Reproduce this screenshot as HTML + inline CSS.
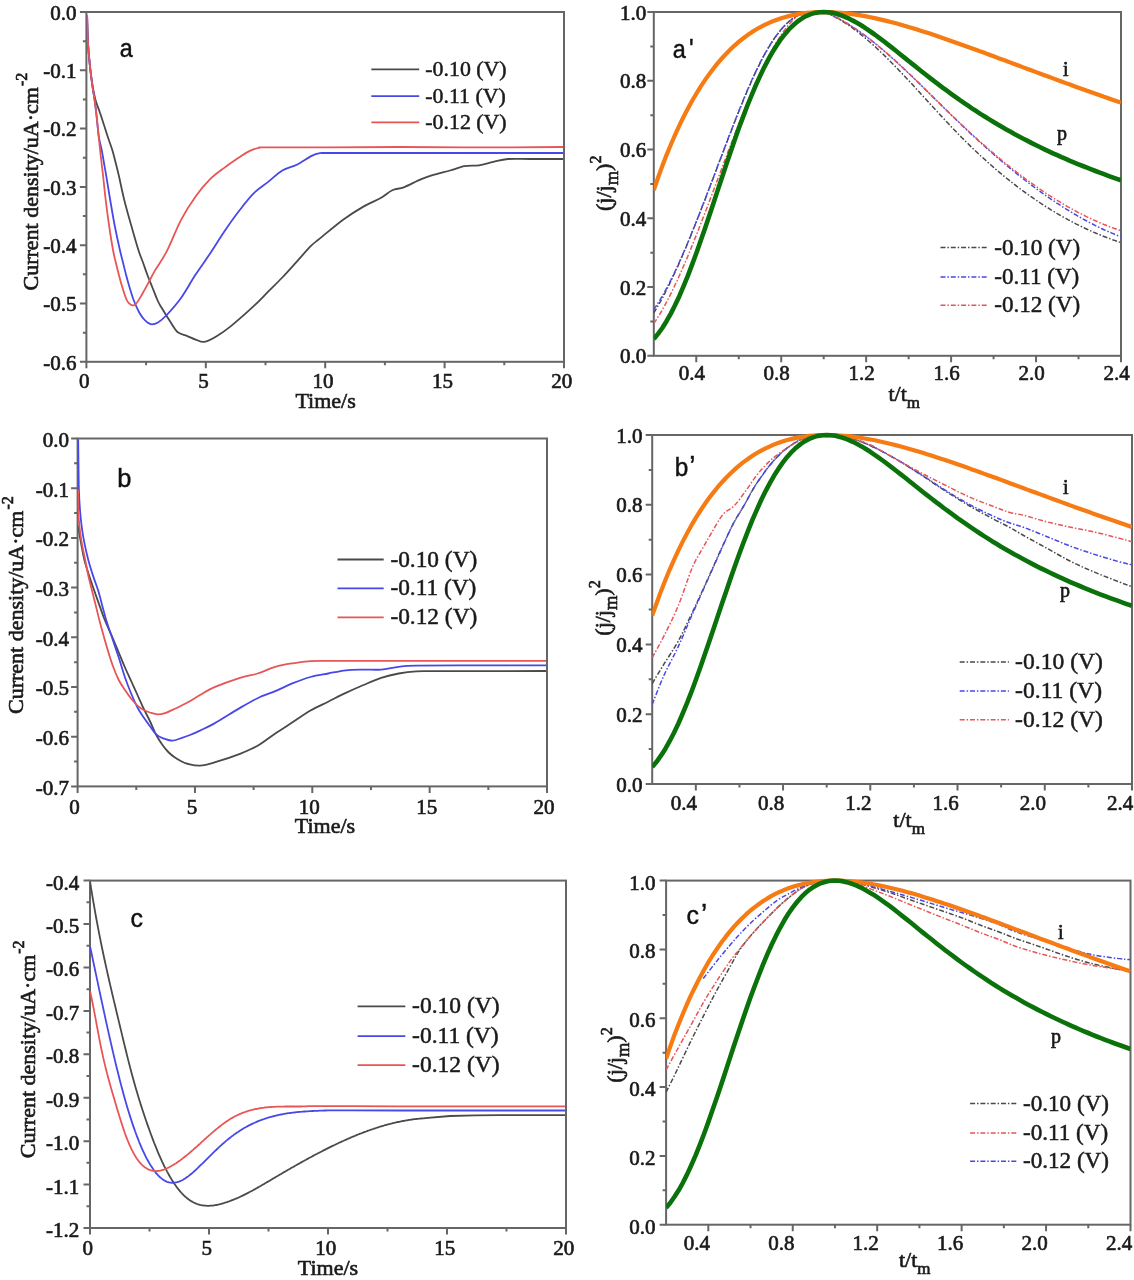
<!DOCTYPE html>
<html><head><meta charset="utf-8"><style>
html,body{margin:0;padding:0;background:#fff;}
body{width:1134px;height:1280px;overflow:hidden;}
svg{display:block;filter:blur(0.4px);}
.tk{font-family:"Liberation Serif", serif;font-size:21px;fill:#1a1a1a;stroke:#1a1a1a;stroke-width:0.65px;}
.lg{font-family:"Liberation Serif", serif;font-size:21.7px;fill:#1a1a1a;stroke:#1a1a1a;stroke-width:0.5px;}
.tt{font-family:"Liberation Serif", serif;font-size:22px;fill:#1a1a1a;stroke:#1a1a1a;stroke-width:0.65px;}
.pl{font-family:"Liberation Sans", sans-serif;font-size:24px;fill:#111;stroke:#111;stroke-width:0.45px;}
.ip{font-family:"Liberation Serif", serif;font-size:20px;fill:#1a1a1a;stroke:#1a1a1a;stroke-width:0.65px;}
</style></head><body>
<svg width="1134" height="1280" viewBox="0 0 1134 1280">
<rect width="1134" height="1280" fill="#fff"/>
<clipPath id="ca"><rect x="86.40" y="9.00" width="477.60" height="352.80"/></clipPath>
<rect x="86.40" y="12.00" width="477.60" height="349.80" fill="none" stroke="#666" stroke-width="2.0"/>
<text x="84.20" y="387.80" text-anchor="middle" class="tk">0</text>
<text x="203.60" y="387.80" text-anchor="middle" class="tk">5</text>
<text x="323.00" y="387.80" text-anchor="middle" class="tk">10</text>
<text x="442.40" y="387.80" text-anchor="middle" class="tk">15</text>
<text x="561.80" y="387.80" text-anchor="middle" class="tk">20</text>
<text x="76.40" y="19.73" text-anchor="end" class="tk">0.0</text>
<text x="76.40" y="78.03" text-anchor="end" class="tk">-0.1</text>
<text x="76.40" y="136.33" text-anchor="end" class="tk">-0.2</text>
<text x="76.40" y="194.63" text-anchor="end" class="tk">-0.3</text>
<text x="76.40" y="252.93" text-anchor="end" class="tk">-0.4</text>
<text x="76.40" y="311.23" text-anchor="end" class="tk">-0.5</text>
<text x="76.40" y="369.53" text-anchor="end" class="tk">-0.6</text>
<path d="M86.40,361.80 v6.5 M205.80,361.80 v6.5 M325.20,361.80 v6.5 M444.60,361.80 v6.5 M564.00,361.80 v6.5 M146.10,361.80 v3.5 M265.50,361.80 v3.5 M384.90,361.80 v3.5 M504.30,361.80 v3.5 M86.40,12.00 h-6.5 M86.40,70.30 h-6.5 M86.40,128.60 h-6.5 M86.40,186.90 h-6.5 M86.40,245.20 h-6.5 M86.40,303.50 h-6.5 M86.40,361.80 h-6.5 M86.40,41.15 h-3.5 M86.40,99.45 h-3.5 M86.40,157.75 h-3.5 M86.40,216.05 h-3.5 M86.40,274.35 h-3.5 M86.40,332.65 h-3.5" stroke="#666" stroke-width="2.0" fill="none"/>
<path d="M87.10,15.00 C87.23,19.38 87.45,32.97 87.90,41.25 C88.35,49.53 89.02,57.24 89.80,64.70 C90.58,72.16 91.65,80.12 92.60,86.00 C93.55,91.88 94.28,95.58 95.50,100.00 C96.72,104.42 98.48,108.33 99.90,112.50 C101.32,116.67 102.65,120.83 104.00,125.00 C105.35,129.17 106.62,133.33 108.00,137.50 C109.38,141.67 111.03,145.83 112.30,150.00 C113.57,154.17 114.53,158.33 115.60,162.50 C116.67,166.67 117.26,168.75 118.70,175.00 C120.14,181.25 122.18,191.67 124.25,200.00 C126.32,208.33 128.74,216.67 131.10,225.00 C133.46,233.33 136.42,243.75 138.40,250.00 C140.38,256.25 141.50,258.33 143.00,262.50 C144.50,266.67 145.83,270.83 147.40,275.00 C148.97,279.17 150.73,283.33 152.40,287.50 C154.07,291.67 155.97,296.78 157.40,300.00 C158.83,303.22 158.90,303.26 161.00,306.80 C163.10,310.34 167.25,317.05 170.00,321.25 C172.75,325.45 174.68,329.57 177.50,332.00 C180.32,334.43 183.88,334.53 186.90,335.80 C189.92,337.07 192.70,338.58 195.60,339.60 C198.50,340.62 200.93,342.38 204.30,341.90 C207.67,341.42 211.47,339.25 215.80,336.70 C220.13,334.15 224.03,331.65 230.30,326.60 C236.57,321.55 247.13,312.18 253.40,306.40 C259.67,300.62 263.08,296.72 267.90,291.90 C272.72,287.08 277.48,282.55 282.30,277.50 C287.12,272.45 291.98,266.90 296.80,261.60 C301.62,256.30 307.33,249.57 311.20,245.70 C315.07,241.83 314.68,242.73 320.00,238.40 C325.32,234.07 335.87,225.00 343.10,219.70 C350.33,214.40 357.13,210.22 363.40,206.60 C369.67,202.98 375.88,200.73 380.70,198.00 C385.52,195.27 388.45,191.98 392.30,190.20 C396.15,188.42 398.98,189.13 403.80,187.30 C408.62,185.47 415.90,181.37 421.20,179.20 C426.50,177.03 430.80,175.75 435.60,174.30 C440.40,172.85 445.18,171.85 450.00,170.50 C454.82,169.15 459.67,167.07 464.50,166.20 C469.33,165.33 474.18,166.03 479.00,165.30 C483.82,164.57 488.58,162.85 493.40,161.80 C498.22,160.75 501.80,159.47 507.90,159.00 C514.00,158.53 520.82,159.00 530.00,159.00 C539.18,159.00 557.50,159.00 563.00,159.00" stroke="#4a4a4a" stroke-width="1.80" fill="none" stroke-linejoin="round" stroke-linecap="butt" clip-path="url(#ca)"/>
<path d="M87.10,15.00 C87.23,19.38 87.45,32.97 87.90,41.25 C88.35,49.53 89.05,57.24 89.80,64.70 C90.55,72.16 91.60,80.12 92.40,86.00 C93.20,91.88 93.97,95.58 94.60,100.00 C95.23,104.42 95.72,108.33 96.20,112.50 C96.68,116.67 97.05,120.83 97.50,125.00 C97.95,129.17 98.20,133.33 98.90,137.50 C99.60,141.67 100.87,145.83 101.70,150.00 C102.53,154.17 103.17,158.33 103.90,162.50 C104.63,166.67 105.05,168.75 106.10,175.00 C107.15,181.25 108.78,191.67 110.20,200.00 C111.62,208.33 112.98,216.67 114.60,225.00 C116.22,233.33 118.50,243.75 119.90,250.00 C121.30,256.25 121.97,258.33 123.00,262.50 C124.03,266.67 125.00,270.83 126.10,275.00 C127.20,279.17 128.35,283.33 129.60,287.50 C130.85,291.67 131.99,295.83 133.60,300.00 C135.21,304.17 137.58,309.38 139.25,312.50 C140.92,315.62 142.22,317.08 143.60,318.75 C144.97,320.42 146.14,321.56 147.50,322.50 C148.86,323.44 150.00,324.40 151.75,324.40 C153.50,324.40 155.51,324.07 158.00,322.50 C160.49,320.93 162.83,319.13 166.70,315.00 C170.57,310.87 176.38,304.43 181.20,297.70 C186.02,290.97 190.78,281.97 195.60,274.60 C200.42,267.23 205.28,260.73 210.10,253.50 C214.92,246.27 219.68,238.28 224.50,231.20 C229.32,224.12 234.18,217.27 239.00,211.00 C243.82,204.73 248.58,198.42 253.40,193.60 C258.22,188.78 263.08,185.95 267.90,182.10 C272.72,178.25 277.48,173.40 282.30,170.50 C287.12,167.60 291.98,167.10 296.80,164.70 C301.62,162.30 307.35,158.02 311.20,156.10 C315.05,154.18 316.77,153.72 319.90,153.20 C323.03,152.68 316.65,153.03 330.00,153.00 C343.35,152.97 361.17,153.00 400.00,153.00 C438.83,153.00 535.83,153.00 563.00,153.00" stroke="#4848e8" stroke-width="1.80" fill="none" stroke-linejoin="round" stroke-linecap="butt" clip-path="url(#ca)"/>
<path d="M87.10,15.00 C87.23,19.38 87.45,32.97 87.90,41.25 C88.35,49.53 89.05,57.24 89.80,64.70 C90.55,72.16 91.60,80.12 92.40,86.00 C93.20,91.88 93.97,95.58 94.60,100.00 C95.23,104.42 95.72,108.33 96.20,112.50 C96.68,116.67 97.07,120.83 97.50,125.00 C97.93,129.17 98.37,133.33 98.80,137.50 C99.23,141.67 99.65,145.83 100.10,150.00 C100.55,154.17 101.02,158.33 101.50,162.50 C101.98,166.67 102.30,168.75 103.00,175.00 C103.70,181.25 104.70,191.67 105.70,200.00 C106.70,208.33 107.78,216.67 109.00,225.00 C110.22,233.33 111.87,243.75 113.00,250.00 C114.13,256.25 114.82,258.33 115.80,262.50 C116.78,266.67 117.80,270.83 118.90,275.00 C120.00,279.17 121.13,283.42 122.40,287.50 C123.67,291.58 125.32,296.80 126.50,299.50 C127.68,302.20 128.52,302.73 129.50,303.70 C130.48,304.67 131.30,305.29 132.40,305.30 C133.50,305.31 134.43,305.68 136.10,303.75 C137.77,301.82 140.32,297.29 142.40,293.75 C144.48,290.21 146.52,286.36 148.60,282.50 C150.68,278.64 151.88,275.78 154.90,270.60 C157.92,265.42 162.32,259.88 166.70,251.40 C171.08,242.92 176.38,228.85 181.20,219.70 C186.02,210.55 190.78,203.25 195.60,196.50 C200.42,189.75 205.28,184.02 210.10,179.20 C214.92,174.38 219.68,171.22 224.50,167.60 C229.32,163.98 235.33,160.00 239.00,157.50 C242.67,155.00 244.10,153.95 246.50,152.60 C248.90,151.25 251.32,150.18 253.40,149.40 C255.48,148.62 256.90,148.25 259.00,147.90 C261.10,147.55 254.17,147.38 266.00,147.30 C277.83,147.22 307.67,147.45 330.00,147.40 C352.33,147.35 375.00,147.00 400.00,147.00 C425.00,147.00 452.83,147.40 480.00,147.40 C507.17,147.40 549.17,147.07 563.00,147.00" stroke="#e85555" stroke-width="1.80" fill="none" stroke-linejoin="round" stroke-linecap="butt" clip-path="url(#ca)"/>
<path d="M371.30,69.30 H419.20" stroke="#4a4a4a" stroke-width="1.80"/>
<text x="425.30" y="76.30" class="lg" style="font-size:21.85px">-0.10 (V)</text>
<path d="M371.30,96.20 H419.20" stroke="#4848e8" stroke-width="1.80"/>
<text x="425.30" y="103.20" class="lg" style="font-size:21.85px">-0.11 (V)</text>
<path d="M371.30,122.30 H419.20" stroke="#e85555" stroke-width="1.80"/>
<text x="425.30" y="129.30" class="lg" style="font-size:21.85px">-0.12 (V)</text>
<g transform="translate(119.80,57.00) scale(0.880,1)"><text x="0" y="0" class="pl" style="font-size:26.5px">a</text></g>
<text transform="translate(37.90,290.50) rotate(-90)" class="tt">Current density/uA&#183;cm<tspan dx="1" dy="-10.5" font-size="16">-2</tspan></text>
<text x="325.60" y="408.30" text-anchor="middle" class="tt">Time/s</text>
<clipPath id="ca2"><rect x="653.80" y="9.00" width="467.20" height="346.80"/></clipPath>
<rect x="653.80" y="12.00" width="467.20" height="343.80" fill="none" stroke="#666" stroke-width="2.0"/>
<text x="691.77" y="379.50" text-anchor="middle" class="tk">0.4</text>
<text x="776.72" y="379.50" text-anchor="middle" class="tk">0.8</text>
<text x="861.66" y="379.50" text-anchor="middle" class="tk">1.2</text>
<text x="946.61" y="379.50" text-anchor="middle" class="tk">1.6</text>
<text x="1031.55" y="379.50" text-anchor="middle" class="tk">2.0</text>
<text x="1116.50" y="379.50" text-anchor="middle" class="tk">2.4</text>
<text x="646.30" y="363.43" text-anchor="end" class="tk">0.0</text>
<text x="646.30" y="294.67" text-anchor="end" class="tk">0.2</text>
<text x="646.30" y="225.91" text-anchor="end" class="tk">0.4</text>
<text x="646.30" y="157.15" text-anchor="end" class="tk">0.6</text>
<text x="646.30" y="88.39" text-anchor="end" class="tk">0.8</text>
<text x="646.30" y="19.63" text-anchor="end" class="tk">1.0</text>
<path d="M696.27,355.80 v6.5 M781.22,355.80 v6.5 M866.16,355.80 v6.5 M951.11,355.80 v6.5 M1036.05,355.80 v6.5 M1121.00,355.80 v6.5 M738.75,355.80 v3.5 M823.69,355.80 v3.5 M908.64,355.80 v3.5 M993.58,355.80 v3.5 M1078.53,355.80 v3.5 M653.80,355.80 h-6.5 M653.80,287.04 h-6.5 M653.80,218.28 h-6.5 M653.80,149.52 h-6.5 M653.80,80.76 h-6.5 M653.80,12.00 h-6.5 M653.80,321.42 h-3.5 M653.80,252.66 h-3.5 M653.80,183.90 h-3.5 M653.80,115.14 h-3.5 M653.80,46.38 h-3.5" stroke="#666" stroke-width="2.0" fill="none"/>
<path d="M653.8,312.8 L655.9,309.3 L658.0,305.7 L660.2,302.0 L662.3,298.1 L664.4,294.1 L666.5,289.9 L668.7,285.7 L670.8,281.3 L672.9,276.8 L675.0,272.2 L677.2,267.6 L679.3,262.8 L681.4,257.9 L683.5,253.0 L685.7,248.0 L687.8,242.9 L689.9,237.7 L692.0,232.5 L694.1,227.2 L696.3,221.9 L698.4,216.5 L700.5,211.1 L702.6,205.6 L704.8,200.1 L706.9,194.6 L709.0,189.0 L711.1,183.5 L713.3,177.9 L715.4,172.3 L717.5,166.7 L719.6,161.1 L721.8,155.5 L723.9,149.9 L726.0,144.4 L728.1,138.9 L730.3,133.4 L732.4,127.9 L734.5,122.4 L736.6,117.0 L738.7,111.7 L740.9,106.4 L743.0,101.2 L745.1,96.1 L747.2,91.0 L749.4,86.1 L751.5,81.3 L753.6,76.6 L755.7,72.0 L757.9,67.5 L760.0,63.2 L762.1,59.1 L764.2,55.1 L766.4,51.3 L768.5,47.7 L770.6,44.2 L772.7,40.9 L774.8,37.7 L777.0,34.8 L779.1,32.0 L781.2,29.4 L783.3,27.0 L785.5,24.8 L787.6,22.8 L789.7,20.9 L791.8,19.2 L794.0,17.7 L796.1,16.4 L798.2,15.2 L800.3,14.1 L802.5,13.3 L804.6,12.5 L806.7,12.0 L808.8,12.0 L810.9,12.0 L813.1,12.0 L815.2,12.0 L817.3,12.0 L819.4,12.0 L821.6,12.0 L823.7,12.1 L825.8,12.6 L827.9,13.5 L830.1,14.5 L832.2,15.5 L834.3,16.6 L836.4,17.8 L838.6,18.9 L840.7,20.2 L842.8,21.5 L844.9,22.8 L847.1,24.2 L849.2,25.7 L851.3,27.2 L853.4,28.7 L855.5,30.3 L857.7,31.9 L859.8,33.6 L861.9,35.3 L864.0,37.1 L866.2,38.8 L868.3,40.7 L870.4,42.5 L872.5,44.4 L874.7,46.3 L876.8,48.3 L878.9,50.3 L881.0,52.3 L883.2,54.3 L885.3,56.4 L887.4,58.5 L889.5,60.6 L891.6,62.8 L893.8,64.9 L895.9,67.1 L898.0,69.3 L900.1,71.5 L902.3,73.8 L904.4,76.0 L906.5,78.3 L908.6,80.5 L910.8,82.8 L912.9,85.1 L915.0,87.4 L917.1,89.7 L919.3,92.1 L921.4,94.4 L923.5,96.7 L925.6,99.0 L927.7,101.3 L929.9,103.7 L932.0,106.0 L934.1,108.3 L936.2,110.6 L938.4,112.9 L940.5,115.2 L942.6,117.5 L944.7,119.8 L946.9,122.1 L949.0,124.3 L951.1,126.6 L953.2,128.8 L955.4,131.0 L957.5,133.2 L959.6,135.4 L961.7,137.5 L963.9,139.6 L966.0,141.8 L968.1,143.8 L970.2,145.9 L972.3,148.0 L974.5,150.0 L976.6,152.0 L978.7,154.0 L980.8,156.0 L983.0,157.9 L985.1,159.8 L987.2,161.8 L989.3,163.6 L991.5,165.5 L993.6,167.4 L995.7,169.2 L997.8,171.0 L1000.0,172.8 L1002.1,174.6 L1004.2,176.3 L1006.3,178.0 L1008.4,179.7 L1010.6,181.4 L1012.7,183.1 L1014.8,184.7 L1016.9,186.4 L1019.1,188.0 L1021.2,189.6 L1023.3,191.1 L1025.4,192.7 L1027.6,194.2 L1029.7,195.7 L1031.8,197.2 L1033.9,198.7 L1036.1,200.1 L1038.2,201.6 L1040.3,203.0 L1042.4,204.4 L1044.5,205.8 L1046.7,207.1 L1048.8,208.4 L1050.9,209.8 L1053.0,211.1 L1055.2,212.3 L1057.3,213.6 L1059.4,214.8 L1061.5,216.1 L1063.7,217.3 L1065.8,218.4 L1067.9,219.6 L1070.0,220.7 L1072.2,221.9 L1074.3,223.0 L1076.4,224.1 L1078.5,225.1 L1080.7,226.2 L1082.8,227.2 L1084.9,228.2 L1087.0,229.2 L1089.1,230.2 L1091.3,231.1 L1093.4,232.1 L1095.5,233.0 L1097.6,233.9 L1099.8,234.8 L1101.9,235.7 L1104.0,236.5 L1106.1,237.3 L1108.3,238.1 L1110.4,238.9 L1112.5,239.7 L1114.6,240.4 L1116.8,241.2 L1118.9,241.9 L1121.0,242.6" stroke="#4a4a4a" stroke-width="1.50" fill="none" stroke-linejoin="round" stroke-linecap="butt" stroke-dasharray="5,1.9,1.5,1.9" clip-path="url(#ca2)"/>
<path d="M653.8,309.4 L655.9,306.3 L658.0,303.0 L660.2,299.6 L662.3,296.0 L664.4,292.3 L666.5,288.4 L668.7,284.3 L670.8,280.2 L672.9,275.9 L675.0,271.5 L677.2,266.9 L679.3,262.3 L681.4,257.5 L683.5,252.7 L685.7,247.7 L687.8,242.7 L689.9,237.6 L692.0,232.4 L694.1,227.2 L696.3,221.8 L698.4,216.5 L700.5,211.0 L702.6,205.6 L704.8,200.1 L706.9,194.5 L709.0,188.9 L711.1,183.3 L713.3,177.7 L715.4,172.1 L717.5,166.5 L719.6,160.8 L721.8,155.2 L723.9,149.6 L726.0,144.0 L728.1,138.4 L730.3,132.9 L732.4,127.4 L734.5,121.9 L736.6,116.5 L738.7,111.2 L740.9,105.9 L743.0,100.7 L745.1,95.6 L747.2,90.6 L749.4,85.7 L751.5,80.8 L753.6,76.2 L755.7,71.6 L757.9,67.2 L760.0,62.9 L762.1,58.8 L764.2,54.9 L766.4,51.1 L768.5,47.5 L770.6,44.0 L772.7,40.8 L774.8,37.7 L777.0,34.7 L779.1,32.0 L781.2,29.4 L783.3,27.0 L785.5,24.8 L787.6,22.8 L789.7,21.0 L791.8,19.3 L794.0,17.8 L796.1,16.4 L798.2,15.2 L800.3,14.2 L802.5,13.3 L804.6,12.6 L806.7,12.0 L808.8,12.0 L810.9,12.0 L813.1,12.0 L815.2,12.0 L817.3,12.0 L819.4,12.0 L821.6,12.0 L823.7,12.1 L825.8,12.6 L827.9,13.5 L830.1,14.4 L832.2,15.4 L834.3,16.4 L836.4,17.5 L838.6,18.6 L840.7,19.7 L842.8,20.9 L844.9,22.1 L847.1,23.4 L849.2,24.7 L851.3,26.0 L853.4,27.4 L855.5,28.8 L857.7,30.3 L859.8,31.7 L861.9,33.3 L864.0,34.8 L866.2,36.4 L868.3,38.0 L870.4,39.6 L872.5,41.3 L874.7,43.0 L876.8,44.7 L878.9,46.5 L881.0,48.3 L883.2,50.1 L885.3,51.9 L887.4,53.7 L889.5,55.6 L891.6,57.5 L893.8,59.4 L895.9,61.3 L898.0,63.3 L900.1,65.2 L902.3,67.2 L904.4,69.2 L906.5,71.2 L908.6,73.2 L910.8,75.2 L912.9,77.3 L915.0,79.3 L917.1,81.4 L919.3,83.4 L921.4,85.5 L923.5,87.6 L925.6,89.7 L927.7,91.8 L929.9,93.9 L932.0,96.0 L934.1,98.1 L936.2,100.2 L938.4,102.3 L940.5,104.4 L942.6,106.5 L944.7,108.6 L946.9,110.6 L949.0,112.7 L951.1,114.8 L953.2,116.9 L955.4,118.9 L957.5,121.0 L959.6,123.0 L961.7,125.1 L963.9,127.1 L966.0,129.1 L968.1,131.1 L970.2,133.1 L972.3,135.1 L974.5,137.1 L976.6,139.0 L978.7,141.0 L980.8,142.9 L983.0,144.8 L985.1,146.7 L987.2,148.6 L989.3,150.5 L991.5,152.4 L993.6,154.2 L995.7,156.1 L997.8,157.9 L1000.0,159.7 L1002.1,161.6 L1004.2,163.3 L1006.3,165.1 L1008.4,166.9 L1010.6,168.6 L1012.7,170.4 L1014.8,172.1 L1016.9,173.8 L1019.1,175.5 L1021.2,177.2 L1023.3,178.9 L1025.4,180.5 L1027.6,182.1 L1029.7,183.8 L1031.8,185.4 L1033.9,187.0 L1036.1,188.5 L1038.2,190.1 L1040.3,191.6 L1042.4,193.2 L1044.5,194.7 L1046.7,196.2 L1048.8,197.6 L1050.9,199.1 L1053.0,200.5 L1055.2,202.0 L1057.3,203.4 L1059.4,204.7 L1061.5,206.1 L1063.7,207.5 L1065.8,208.8 L1067.9,210.1 L1070.0,211.4 L1072.2,212.7 L1074.3,214.0 L1076.4,215.2 L1078.5,216.5 L1080.7,217.7 L1082.8,218.9 L1084.9,220.0 L1087.0,221.2 L1089.1,222.3 L1091.3,223.4 L1093.4,224.5 L1095.5,225.6 L1097.6,226.6 L1099.8,227.7 L1101.9,228.7 L1104.0,229.7 L1106.1,230.6 L1108.3,231.6 L1110.4,232.5 L1112.5,233.4 L1114.6,234.3 L1116.8,235.2 L1118.9,236.0 L1121.0,236.8" stroke="#4848e8" stroke-width="1.50" fill="none" stroke-linejoin="round" stroke-linecap="butt" stroke-dasharray="5,1.9,1.5,1.9" clip-path="url(#ca2)"/>
<path d="M653.8,323.5 L655.9,320.4 L658.0,317.0 L660.2,313.5 L662.3,309.9 L664.4,306.1 L666.5,302.1 L668.7,298.0 L670.8,293.8 L672.9,289.5 L675.0,285.0 L677.2,280.5 L679.3,275.8 L681.4,271.0 L683.5,266.2 L685.7,261.2 L687.8,256.2 L689.9,251.1 L692.0,245.9 L694.1,240.6 L696.3,235.3 L698.4,229.9 L700.5,224.4 L702.6,219.0 L704.8,213.4 L706.9,207.9 L709.0,202.3 L711.1,196.7 L713.3,191.1 L715.4,185.4 L717.5,179.8 L719.6,174.1 L721.8,168.5 L723.9,162.8 L726.0,157.2 L728.1,151.6 L730.3,146.1 L732.4,140.5 L734.5,135.0 L736.6,129.6 L738.7,124.2 L740.9,118.8 L743.0,113.5 L745.1,108.3 L747.2,103.1 L749.4,98.0 L751.5,93.0 L753.6,88.1 L755.7,83.3 L757.9,78.6 L760.0,74.0 L762.1,69.5 L764.2,65.1 L766.4,60.8 L768.5,56.7 L770.6,52.7 L772.7,48.8 L774.8,45.1 L777.0,41.5 L779.1,38.1 L781.2,34.9 L783.3,31.8 L785.5,28.9 L787.6,26.1 L789.7,23.6 L791.8,21.2 L794.0,19.0 L796.1,17.0 L798.2,15.3 L800.3,13.7 L802.5,12.4 L804.6,12.0 L806.7,12.0 L808.8,12.0 L810.9,12.0 L813.1,12.0 L815.2,12.0 L817.3,12.0 L819.4,12.0 L821.6,12.0 L823.7,12.1 L825.8,12.6 L827.9,13.5 L830.1,14.4 L832.2,15.4 L834.3,16.4 L836.4,17.4 L838.6,18.5 L840.7,19.7 L842.8,20.9 L844.9,22.1 L847.1,23.4 L849.2,24.7 L851.3,26.0 L853.4,27.4 L855.5,28.8 L857.7,30.2 L859.8,31.7 L861.9,33.3 L864.0,34.8 L866.2,36.4 L868.3,38.0 L870.4,39.7 L872.5,41.3 L874.7,43.0 L876.8,44.8 L878.9,46.5 L881.0,48.3 L883.2,50.1 L885.3,51.9 L887.4,53.8 L889.5,55.6 L891.6,57.5 L893.8,59.4 L895.9,61.4 L898.0,63.3 L900.1,65.3 L902.3,67.3 L904.4,69.2 L906.5,71.2 L908.6,73.3 L910.8,75.3 L912.9,77.3 L915.0,79.4 L917.1,81.4 L919.3,83.5 L921.4,85.6 L923.5,87.6 L925.6,89.7 L927.7,91.8 L929.9,93.9 L932.0,96.0 L934.1,98.1 L936.2,100.2 L938.4,102.2 L940.5,104.3 L942.6,106.4 L944.7,108.5 L946.9,110.6 L949.0,112.6 L951.1,114.7 L953.2,116.7 L955.4,118.8 L957.5,120.8 L959.6,122.8 L961.7,124.8 L963.9,126.8 L966.0,128.8 L968.1,130.8 L970.2,132.7 L972.3,134.7 L974.5,136.6 L976.6,138.5 L978.7,140.5 L980.8,142.3 L983.0,144.2 L985.1,146.1 L987.2,148.0 L989.3,149.8 L991.5,151.6 L993.6,153.4 L995.7,155.2 L997.8,157.0 L1000.0,158.8 L1002.1,160.5 L1004.2,162.3 L1006.3,164.0 L1008.4,165.7 L1010.6,167.4 L1012.7,169.1 L1014.8,170.7 L1016.9,172.4 L1019.1,174.0 L1021.2,175.6 L1023.3,177.2 L1025.4,178.8 L1027.6,180.4 L1029.7,181.9 L1031.8,183.4 L1033.9,184.9 L1036.1,186.4 L1038.2,187.9 L1040.3,189.4 L1042.4,190.8 L1044.5,192.3 L1046.7,193.7 L1048.8,195.1 L1050.9,196.4 L1053.0,197.8 L1055.2,199.1 L1057.3,200.4 L1059.4,201.7 L1061.5,203.0 L1063.7,204.3 L1065.8,205.5 L1067.9,206.8 L1070.0,208.0 L1072.2,209.1 L1074.3,210.3 L1076.4,211.5 L1078.5,212.6 L1080.7,213.7 L1082.8,214.8 L1084.9,215.8 L1087.0,216.9 L1089.1,217.9 L1091.3,218.9 L1093.4,219.9 L1095.5,220.8 L1097.6,221.8 L1099.8,222.7 L1101.9,223.6 L1104.0,224.5 L1106.1,225.3 L1108.3,226.2 L1110.4,227.0 L1112.5,227.8 L1114.6,228.5 L1116.8,229.3 L1118.9,230.0 L1121.0,230.7" stroke="#e85555" stroke-width="1.50" fill="none" stroke-linejoin="round" stroke-linecap="butt" stroke-dasharray="5,1.9,1.5,1.9" clip-path="url(#ca2)"/>
<path d="M653.8,190.0 L658.0,177.7 L662.3,166.1 L666.5,155.1 L670.8,144.8 L675.0,135.0 L679.3,125.7 L683.5,117.0 L687.8,108.7 L692.0,101.0 L696.3,93.7 L700.5,86.9 L704.8,80.4 L709.0,74.4 L713.3,68.7 L717.5,63.4 L721.8,58.5 L726.0,53.9 L730.3,49.6 L734.5,45.6 L738.7,41.9 L743.0,38.5 L747.2,35.3 L751.5,32.4 L755.7,29.8 L760.0,27.3 L764.2,25.1 L768.5,23.1 L772.7,21.3 L777.0,19.7 L781.2,18.2 L785.5,17.0 L789.7,15.9 L794.0,14.9 L798.2,14.1 L802.5,13.4 L806.7,12.9 L810.9,12.5 L815.2,12.2 L819.4,12.1 L823.7,12.0 L827.9,12.1 L832.2,12.2 L836.4,12.5 L840.7,12.8 L844.9,13.2 L849.2,13.7 L853.4,14.3 L857.7,14.9 L861.9,15.6 L866.2,16.4 L870.4,17.2 L874.7,18.1 L878.9,19.1 L883.2,20.1 L887.4,21.1 L891.6,22.2 L895.9,23.3 L900.1,24.5 L904.4,25.7 L908.6,27.0 L912.9,28.2 L917.1,29.5 L921.4,30.9 L925.6,32.2 L929.9,33.6 L934.1,35.0 L938.4,36.5 L942.6,37.9 L946.9,39.4 L951.1,40.9 L955.4,42.4 L959.6,43.9 L963.9,45.4 L968.1,46.9 L972.3,48.5 L976.6,50.0 L980.8,51.6 L985.1,53.1 L989.3,54.7 L993.6,56.3 L997.8,57.9 L1002.1,59.4 L1006.3,61.0 L1010.6,62.6 L1014.8,64.2 L1019.1,65.8 L1023.3,67.4 L1027.6,69.0 L1031.8,70.5 L1036.1,72.1 L1040.3,73.7 L1044.5,75.3 L1048.8,76.8 L1053.0,78.4 L1057.3,80.0 L1061.5,81.5 L1065.8,83.1 L1070.0,84.6 L1074.3,86.2 L1078.5,87.7 L1082.8,89.2 L1087.0,90.7 L1091.3,92.3 L1095.5,93.8 L1099.8,95.3 L1104.0,96.8 L1108.3,98.2 L1112.5,99.7 L1116.8,101.2 L1121.0,102.6" stroke="#f57b12" stroke-width="4.20" fill="none" stroke-linejoin="round" stroke-linecap="butt" clip-path="url(#ca2)"/>
<path d="M653.8,339.0 L658.0,333.9 L662.3,328.0 L666.5,321.2 L670.8,313.6 L675.0,305.3 L679.3,296.2 L683.5,286.4 L687.8,275.9 L692.0,264.9 L696.3,253.3 L700.5,241.3 L704.8,229.0 L709.0,216.4 L713.3,203.7 L717.5,190.9 L721.8,178.1 L726.0,165.3 L730.3,152.8 L734.5,140.6 L738.7,128.6 L743.0,117.1 L747.2,106.0 L751.5,95.5 L755.7,85.5 L760.0,76.1 L764.2,67.3 L768.5,59.2 L772.7,51.7 L777.0,44.9 L781.2,38.8 L785.5,33.4 L789.7,28.6 L794.0,24.5 L798.2,21.0 L802.5,18.1 L806.7,15.8 L810.9,14.1 L815.2,12.9 L819.4,12.2 L823.7,12.0 L827.9,12.2 L832.2,12.8 L836.4,13.8 L840.7,15.2 L844.9,16.8 L849.2,18.7 L853.4,20.9 L857.7,23.2 L861.9,25.8 L866.2,28.6 L870.4,31.5 L874.7,34.5 L878.9,37.6 L883.2,40.8 L887.4,44.1 L891.6,47.4 L895.9,50.8 L900.1,54.2 L904.4,57.6 L908.6,61.0 L912.9,64.4 L917.1,67.8 L921.4,71.2 L925.6,74.5 L929.9,77.9 L934.1,81.1 L938.4,84.4 L942.6,87.6 L946.9,90.7 L951.1,93.8 L955.4,96.9 L959.6,99.9 L963.9,102.8 L968.1,105.7 L972.3,108.6 L976.6,111.3 L980.8,114.1 L985.1,116.8 L989.3,119.4 L993.6,122.0 L997.8,124.5 L1002.1,127.0 L1006.3,129.4 L1010.6,131.8 L1014.8,134.2 L1019.1,136.5 L1023.3,138.7 L1027.6,140.9 L1031.8,143.1 L1036.1,145.2 L1040.3,147.3 L1044.5,149.3 L1048.8,151.3 L1053.0,153.3 L1057.3,155.2 L1061.5,157.1 L1065.8,158.9 L1070.0,160.8 L1074.3,162.6 L1078.5,164.3 L1082.8,166.0 L1087.0,167.7 L1091.3,169.4 L1095.5,171.0 L1099.8,172.6 L1104.0,174.2 L1108.3,175.8 L1112.5,177.3 L1116.8,178.8 L1121.0,180.3" stroke="#0b720b" stroke-width="4.60" fill="none" stroke-linejoin="round" stroke-linecap="butt" clip-path="url(#ca2)"/>
<path d="M940.50,247.50 H988.30" stroke="#4a4a4a" stroke-width="1.50" stroke-dasharray="5,1.9,1.5,1.9"/>
<text x="994.20" y="254.50" class="lg" style="font-size:23.10px">-0.10 (V)</text>
<path d="M940.50,277.00 H988.30" stroke="#4848e8" stroke-width="1.50" stroke-dasharray="5,1.9,1.5,1.9"/>
<text x="994.20" y="284.00" class="lg" style="font-size:23.10px">-0.11 (V)</text>
<path d="M940.50,305.20 H988.30" stroke="#e85555" stroke-width="1.50" stroke-dasharray="5,1.9,1.5,1.9"/>
<text x="994.20" y="312.20" class="lg" style="font-size:23.10px">-0.12 (V)</text>
<g transform="translate(672.80,58.00) scale(0.900,1)"><text x="0" y="0" class="pl" style="font-size:26.0px">a<tspan dx="3.50" dy="0.00" style="font-size:27.0px">'</tspan></text></g>
<text x="1063" y="75.5" class="ip">i</text>
<text x="1057" y="139.5" class="ip">p</text>
<text transform="translate(610.80,211.00) rotate(-90)" class="tt">(j/j<tspan dy="7" font-size="18.5">m</tspan><tspan dy="-7">)</tspan><tspan dy="-9.5" font-size="16">2</tspan></text>
<text x="888.50" y="401.30" class="tt">t/t<tspan dy="7" style="font-size:17px">m</tspan></text>
<clipPath id="cb"><rect x="77.60" y="435.50" width="469.40" height="350.90"/></clipPath>
<rect x="77.60" y="438.50" width="469.40" height="347.90" fill="none" stroke="#666" stroke-width="2.0"/>
<text x="74.60" y="813.50" text-anchor="middle" class="tk">0</text>
<text x="191.95" y="813.50" text-anchor="middle" class="tk">5</text>
<text x="309.30" y="813.50" text-anchor="middle" class="tk">10</text>
<text x="426.65" y="813.50" text-anchor="middle" class="tk">15</text>
<text x="544.00" y="813.50" text-anchor="middle" class="tk">20</text>
<text x="68.90" y="446.93" text-anchor="end" class="tk">0.0</text>
<text x="68.90" y="496.63" text-anchor="end" class="tk">-0.1</text>
<text x="68.90" y="546.33" text-anchor="end" class="tk">-0.2</text>
<text x="68.90" y="596.03" text-anchor="end" class="tk">-0.3</text>
<text x="68.90" y="645.73" text-anchor="end" class="tk">-0.4</text>
<text x="68.90" y="695.43" text-anchor="end" class="tk">-0.5</text>
<text x="68.90" y="745.13" text-anchor="end" class="tk">-0.6</text>
<text x="68.90" y="794.83" text-anchor="end" class="tk">-0.7</text>
<path d="M77.60,786.40 v6.5 M194.95,786.40 v6.5 M312.30,786.40 v6.5 M429.65,786.40 v6.5 M547.00,786.40 v6.5 M136.27,786.40 v3.5 M253.62,786.40 v3.5 M370.98,786.40 v3.5 M488.32,786.40 v3.5 M77.60,438.50 h-6.5 M77.60,488.20 h-6.5 M77.60,537.90 h-6.5 M77.60,587.60 h-6.5 M77.60,637.30 h-6.5 M77.60,687.00 h-6.5 M77.60,736.70 h-6.5 M77.60,786.40 h-6.5 M77.60,463.35 h-3.5 M77.60,513.05 h-3.5 M77.60,562.75 h-3.5 M77.60,612.45 h-3.5 M77.60,662.15 h-3.5 M77.60,711.85 h-3.5 M77.60,761.55 h-3.5" stroke="#666" stroke-width="2.0" fill="none"/>
<path d="M78.10,525.60 C78.62,528.73 80.20,538.67 81.25,544.40 C82.30,550.13 83.09,554.80 84.40,560.00 C85.71,565.20 87.42,570.38 89.10,575.60 C90.78,580.82 92.68,586.08 94.50,591.30 C96.32,596.52 98.25,602.03 100.00,606.90 C101.75,611.77 102.92,615.40 105.00,620.50 C107.08,625.60 110.21,632.17 112.50,637.50 C114.79,642.83 116.67,647.50 118.75,652.50 C120.83,657.50 122.92,662.71 125.00,667.50 C127.08,672.29 129.17,676.67 131.25,681.25 C133.33,685.83 135.42,690.42 137.50,695.00 C139.58,699.58 141.67,704.38 143.75,708.75 C145.83,713.12 147.92,716.88 150.00,721.25 C152.08,725.62 154.17,731.04 156.25,735.00 C158.33,738.96 160.42,742.08 162.50,745.00 C164.58,747.92 166.67,750.42 168.75,752.50 C170.83,754.58 172.92,756.04 175.00,757.50 C177.08,758.96 179.17,760.21 181.25,761.25 C183.33,762.29 184.38,763.02 187.50,763.75 C190.62,764.48 195.50,765.83 200.00,765.60 C204.50,765.38 207.83,764.37 214.50,762.40 C221.17,760.43 232.82,756.57 240.00,753.80 C247.18,751.03 251.72,749.18 257.60,745.80 C263.48,742.42 269.42,737.47 275.30,733.50 C281.18,729.53 287.03,725.83 292.90,722.00 C298.77,718.17 304.62,713.88 310.50,710.50 C316.38,707.12 322.32,704.63 328.20,701.70 C334.08,698.77 339.92,695.68 345.80,692.90 C351.68,690.12 357.62,687.50 363.50,685.00 C369.38,682.50 375.23,679.82 381.10,677.90 C386.97,675.98 392.82,674.58 398.70,673.50 C404.58,672.42 409.52,671.78 416.40,671.40 C423.28,671.02 418.40,671.27 440.00,671.20 C461.60,671.13 528.33,671.03 546.00,671.00" stroke="#4a4a4a" stroke-width="1.80" fill="none" stroke-linejoin="round" stroke-linecap="butt" clip-path="url(#cb)"/>
<path d="M78.20,439.50 C78.25,443.75 78.38,456.63 78.50,465.00 C78.62,473.37 78.65,482.20 78.90,489.70 C79.15,497.20 79.48,503.48 80.00,510.00 C80.52,516.52 81.22,523.07 82.00,528.80 C82.78,534.53 83.65,539.20 84.70,544.40 C85.75,549.60 86.92,554.80 88.30,560.00 C89.68,565.20 91.32,570.38 93.00,575.60 C94.68,580.82 96.80,586.08 98.40,591.30 C100.00,596.52 101.25,601.95 102.60,606.90 C103.95,611.85 104.93,615.90 106.50,621.00 C108.07,626.10 109.96,631.42 112.00,637.50 C114.04,643.58 116.58,650.83 118.75,657.50 C120.92,664.17 122.92,671.46 125.00,677.50 C127.08,683.54 129.17,688.75 131.25,693.75 C133.33,698.75 135.42,703.54 137.50,707.50 C139.58,711.46 141.67,714.38 143.75,717.50 C145.83,720.62 147.92,723.43 150.00,726.25 C152.08,729.07 154.17,732.42 156.25,734.40 C158.33,736.38 159.79,737.07 162.50,738.10 C165.21,739.13 169.38,740.60 172.50,740.60 C175.62,740.60 178.33,739.03 181.25,738.10 C184.17,737.17 186.88,736.25 190.00,735.00 C193.12,733.75 195.92,732.53 200.00,730.60 C204.08,728.67 207.83,727.18 214.50,723.40 C221.17,719.62 232.82,712.10 240.00,707.90 C247.18,703.70 251.72,701.00 257.60,698.20 C263.48,695.40 269.42,693.60 275.30,691.10 C281.18,688.60 287.03,685.55 292.90,683.20 C298.77,680.85 304.62,678.62 310.50,677.00 C316.38,675.38 322.32,674.62 328.20,673.50 C334.08,672.38 339.92,670.95 345.80,670.30 C351.68,669.65 357.62,669.72 363.50,669.60 C369.38,669.48 375.23,670.07 381.10,669.60 C386.97,669.13 392.82,667.47 398.70,666.80 C404.58,666.13 402.85,665.83 416.40,665.60 C429.95,665.37 458.40,665.43 480.00,665.40 C501.60,665.37 535.00,665.40 546.00,665.40" stroke="#4848e8" stroke-width="1.80" fill="none" stroke-linejoin="round" stroke-linecap="butt" clip-path="url(#cb)"/>
<path d="M78.10,489.70 C78.15,493.58 78.13,506.48 78.40,513.00 C78.67,519.52 79.10,523.57 79.70,528.80 C80.30,534.03 81.08,539.20 82.00,544.40 C82.92,549.60 84.15,554.80 85.20,560.00 C86.25,565.20 87.13,570.38 88.30,575.60 C89.47,580.82 90.90,586.08 92.20,591.30 C93.50,596.52 94.80,601.70 96.10,606.90 C97.40,612.10 98.31,616.15 100.00,622.50 C101.69,628.85 104.17,637.92 106.25,645.00 C108.33,652.08 110.42,659.17 112.50,665.00 C114.58,670.83 116.67,675.83 118.75,680.00 C120.83,684.17 122.92,686.88 125.00,690.00 C127.08,693.12 129.17,696.15 131.25,698.75 C133.33,701.35 135.42,703.73 137.50,705.60 C139.58,707.48 141.67,708.85 143.75,710.00 C145.83,711.15 147.71,711.77 150.00,712.50 C152.29,713.23 155.00,714.30 157.50,714.40 C160.00,714.50 162.08,714.04 165.00,713.10 C167.92,712.16 171.25,710.52 175.00,708.75 C178.75,706.98 183.33,704.79 187.50,702.50 C191.67,700.21 195.50,697.55 200.00,695.00 C204.50,692.45 207.83,690.05 214.50,687.20 C221.17,684.35 232.82,680.18 240.00,677.90 C247.18,675.62 251.72,675.35 257.60,673.50 C263.48,671.65 269.42,668.50 275.30,666.80 C281.18,665.10 287.03,664.23 292.90,663.30 C298.77,662.37 304.32,661.60 310.50,661.20 C316.68,660.80 315.08,660.95 330.00,660.90 C344.92,660.85 364.00,660.90 400.00,660.90 C436.00,660.90 521.67,660.90 546.00,660.90" stroke="#e85555" stroke-width="1.80" fill="none" stroke-linejoin="round" stroke-linecap="butt" clip-path="url(#cb)"/>
<path d="M337.50,559.50 H383.70" stroke="#4a4a4a" stroke-width="1.80"/>
<text x="390.40" y="566.50" class="lg" style="font-size:23.35px">-0.10 (V)</text>
<path d="M337.50,588.40 H383.70" stroke="#4848e8" stroke-width="1.80"/>
<text x="390.40" y="595.40" class="lg" style="font-size:23.35px">-0.11 (V)</text>
<path d="M337.50,617.30 H383.70" stroke="#e85555" stroke-width="1.80"/>
<text x="390.40" y="624.30" class="lg" style="font-size:23.35px">-0.12 (V)</text>
<g transform="translate(117.30,486.60) scale(0.960,1)"><text x="0" y="0" class="pl" style="font-size:26.5px">b</text></g>
<text transform="translate(23.40,714.00) rotate(-90)" class="tt">Current density/uA&#183;cm<tspan dx="1" dy="-10.5" font-size="16">-2</tspan></text>
<text x="325.00" y="832.90" text-anchor="middle" class="tt">Time/s</text>
<clipPath id="cb2"><rect x="652.20" y="432.00" width="479.80" height="352.00"/></clipPath>
<rect x="652.20" y="435.00" width="479.80" height="349.00" fill="none" stroke="#666" stroke-width="2.0"/>
<text x="683.82" y="809.70" text-anchor="middle" class="tk">0.4</text>
<text x="771.05" y="809.70" text-anchor="middle" class="tk">0.8</text>
<text x="858.29" y="809.70" text-anchor="middle" class="tk">1.2</text>
<text x="945.53" y="809.70" text-anchor="middle" class="tk">1.6</text>
<text x="1032.76" y="809.70" text-anchor="middle" class="tk">2.0</text>
<text x="1120.00" y="809.70" text-anchor="middle" class="tk">2.4</text>
<text x="642.40" y="791.53" text-anchor="end" class="tk">0.0</text>
<text x="642.40" y="721.73" text-anchor="end" class="tk">0.2</text>
<text x="642.40" y="651.93" text-anchor="end" class="tk">0.4</text>
<text x="642.40" y="582.13" text-anchor="end" class="tk">0.6</text>
<text x="642.40" y="512.33" text-anchor="end" class="tk">0.8</text>
<text x="642.40" y="442.53" text-anchor="end" class="tk">1.0</text>
<path d="M695.82,784.00 v6.5 M783.05,784.00 v6.5 M870.29,784.00 v6.5 M957.53,784.00 v6.5 M1044.76,784.00 v6.5 M1132.00,784.00 v6.5 M739.44,784.00 v3.5 M826.67,784.00 v3.5 M913.91,784.00 v3.5 M1001.15,784.00 v3.5 M1088.38,784.00 v3.5 M652.20,784.00 h-6.5 M652.20,714.20 h-6.5 M652.20,644.40 h-6.5 M652.20,574.60 h-6.5 M652.20,504.80 h-6.5 M652.20,435.00 h-6.5 M652.20,749.10 h-3.5 M652.20,679.30 h-3.5 M652.20,609.50 h-3.5 M652.20,539.70 h-3.5 M652.20,469.90 h-3.5" stroke="#666" stroke-width="2.0" fill="none"/>
<path d="M652.20,683.49 C654.18,680.23 659.76,670.98 664.09,663.94 C668.41,656.91 673.48,649.75 678.15,641.26 C682.82,632.77 687.42,622.82 692.11,612.99 C696.80,603.16 701.52,592.75 706.29,582.28 C711.05,571.81 716.94,558.40 720.68,550.17 C724.42,541.94 726.46,537.66 728.75,532.89 C731.04,528.12 732.53,525.01 734.42,521.55 C736.31,518.09 738.16,515.39 740.09,512.13 C742.02,508.87 744.05,505.44 745.98,502.01 C747.91,498.58 749.76,494.80 751.65,491.54 C753.54,488.28 755.43,485.31 757.32,482.46 C759.21,479.61 761.06,477.11 762.99,474.44 C764.92,471.76 766.01,469.84 768.88,466.41 C771.75,462.98 776.40,457.45 780.22,453.85 C784.04,450.24 787.96,447.33 791.78,444.77 C795.59,442.21 799.12,440.00 803.12,438.49 C807.12,436.98 811.84,436.28 815.77,435.70 C819.69,435.12 821.22,434.65 826.67,435.00 C832.13,435.35 841.25,436.05 848.48,437.79 C855.72,439.54 862.37,442.04 870.07,445.47 C877.78,448.90 886.50,453.67 894.72,458.38 C902.93,463.09 911.15,468.45 919.36,473.74 C927.58,479.03 935.75,484.85 944.01,490.14 C952.26,495.44 960.62,500.67 968.87,505.50 C977.12,510.33 986.68,515.44 993.51,519.11 C1000.35,522.77 1004.85,524.75 1009.87,527.49 C1014.89,530.22 1017.39,532.02 1023.61,535.51 C1029.82,539.00 1039.28,544.09 1047.16,548.42 C1055.05,552.76 1063.05,557.56 1070.93,561.51 C1078.82,565.47 1086.60,568.81 1094.49,572.16 C1102.38,575.50 1112.01,579.14 1118.26,581.58 C1124.51,584.02 1129.71,585.94 1132.00,586.82" stroke="#4a4a4a" stroke-width="1.50" fill="none" stroke-linejoin="round" stroke-linecap="butt" stroke-dasharray="5,1.9,1.5,1.9" clip-path="url(#cb2)"/>
<path d="M652.20,704.43 C654.18,699.54 659.76,684.71 664.09,675.11 C668.41,665.51 673.48,656.91 678.15,646.84 C682.82,636.78 687.42,625.38 692.11,614.74 C696.80,604.09 701.52,593.62 706.29,582.98 C711.05,572.33 716.94,559.21 720.68,550.87 C724.42,542.52 726.46,537.78 728.75,532.89 C731.04,528.01 732.53,525.01 734.42,521.55 C736.31,518.09 738.16,515.39 740.09,512.13 C742.02,508.87 744.05,505.44 745.98,502.01 C747.91,498.58 749.76,494.80 751.65,491.54 C753.54,488.28 755.43,485.31 757.32,482.46 C759.21,479.61 761.06,477.11 762.99,474.44 C764.92,471.76 766.01,469.84 768.88,466.41 C771.75,462.98 776.40,457.45 780.22,453.85 C784.04,450.24 787.96,447.33 791.78,444.77 C795.59,442.21 799.12,440.00 803.12,438.49 C807.12,436.98 811.84,436.28 815.77,435.70 C819.69,435.12 821.22,434.65 826.67,435.00 C832.13,435.35 841.25,436.05 848.48,437.79 C855.72,439.54 862.37,442.04 870.07,445.47 C877.78,448.90 886.50,453.73 894.72,458.38 C902.93,463.04 911.15,468.21 919.36,473.39 C927.58,478.57 935.75,484.33 944.01,489.44 C952.26,494.56 960.62,499.62 968.87,504.10 C977.12,508.58 986.68,513.18 993.51,516.32 C1000.35,519.46 1004.85,521.12 1009.87,522.95 C1014.89,524.78 1017.39,525.02 1023.61,527.31 C1029.82,529.60 1039.28,533.53 1047.16,536.70 C1055.05,539.87 1063.05,543.39 1070.93,546.33 C1078.82,549.27 1086.60,551.83 1094.49,554.36 C1102.38,556.89 1112.01,559.77 1118.26,561.51 C1124.51,563.26 1129.71,564.28 1132.00,564.83" stroke="#4848e8" stroke-width="1.50" fill="none" stroke-linejoin="round" stroke-linecap="butt" stroke-dasharray="5,1.9,1.5,1.9" clip-path="url(#cb2)"/>
<path d="M652.20,657.66 C654.18,654.00 659.76,644.28 664.09,635.67 C668.41,627.07 673.48,617.29 678.15,606.01 C682.82,594.73 688.08,577.51 692.11,567.97 C696.15,558.43 699.13,554.62 702.36,548.77 C705.60,542.93 708.10,538.59 711.52,532.89 C714.94,527.19 719.04,519.14 722.86,514.57 C726.68,510.01 730.57,509.51 734.42,505.50 C738.27,501.48 742.16,495.67 745.98,490.49 C749.80,485.31 753.50,479.21 757.32,474.44 C761.14,469.67 765.06,465.51 768.88,461.87 C772.70,458.23 776.40,455.38 780.22,452.59 C784.04,449.80 787.96,447.41 791.78,445.12 C795.59,442.83 799.12,440.41 803.12,438.84 C807.12,437.27 811.84,436.34 815.77,435.70 C819.69,435.06 821.22,434.65 826.67,435.00 C832.13,435.35 841.25,436.16 848.48,437.79 C855.72,439.42 862.37,441.34 870.07,444.77 C877.78,448.20 886.50,453.85 894.72,458.38 C902.93,462.92 911.15,467.63 919.36,471.99 C927.58,476.36 935.75,480.43 944.01,484.56 C952.26,488.69 960.62,493.11 968.87,496.77 C977.12,500.44 986.68,503.93 993.51,506.54 C1000.35,509.16 1004.85,511.02 1009.87,512.48 C1014.89,513.93 1017.39,513.70 1023.61,515.27 C1029.82,516.84 1039.28,519.89 1047.16,521.90 C1055.05,523.91 1063.05,525.62 1070.93,527.31 C1078.82,529.00 1086.60,530.25 1094.49,532.02 C1102.38,533.80 1112.01,536.33 1118.26,537.96 C1124.51,539.58 1129.71,541.15 1132.00,541.79" stroke="#e85555" stroke-width="1.50" fill="none" stroke-linejoin="round" stroke-linecap="butt" stroke-dasharray="5,1.9,1.5,1.9" clip-path="url(#cb2)"/>
<path d="M652.2,615.6 L656.6,603.2 L660.9,591.4 L665.3,580.3 L669.6,569.8 L674.0,559.8 L678.4,550.4 L682.7,541.6 L687.1,533.2 L691.5,525.3 L695.8,517.9 L700.2,511.0 L704.5,504.5 L708.9,498.3 L713.3,492.6 L717.6,487.2 L722.0,482.2 L726.4,477.5 L730.7,473.2 L735.1,469.1 L739.4,465.4 L743.8,461.9 L748.2,458.7 L752.5,455.7 L756.9,453.0 L761.2,450.6 L765.6,448.3 L770.0,446.3 L774.3,444.4 L778.7,442.8 L783.1,441.3 L787.4,440.0 L791.8,438.9 L796.1,437.9 L800.5,437.1 L804.9,436.5 L809.2,435.9 L813.6,435.5 L817.9,435.2 L822.3,435.1 L826.7,435.0 L831.0,435.1 L835.4,435.2 L839.8,435.5 L844.1,435.8 L848.5,436.2 L852.8,436.7 L857.2,437.3 L861.6,438.0 L865.9,438.7 L870.3,439.5 L874.7,440.3 L879.0,441.2 L883.4,442.2 L887.7,443.2 L892.1,444.3 L896.5,445.4 L900.8,446.5 L905.2,447.7 L909.5,448.9 L913.9,450.2 L918.3,451.5 L922.6,452.8 L927.0,454.2 L931.4,455.5 L935.7,457.0 L940.1,458.4 L944.4,459.8 L948.8,461.3 L953.2,462.8 L957.5,464.3 L961.9,465.8 L966.3,467.3 L970.6,468.9 L975.0,470.4 L979.3,472.0 L983.7,473.6 L988.1,475.2 L992.4,476.8 L996.8,478.3 L1001.1,479.9 L1005.5,481.5 L1009.9,483.2 L1014.2,484.8 L1018.6,486.4 L1023.0,488.0 L1027.3,489.6 L1031.7,491.2 L1036.0,492.8 L1040.4,494.4 L1044.8,496.0 L1049.1,497.6 L1053.5,499.2 L1057.8,500.8 L1062.2,502.4 L1066.6,504.0 L1070.9,505.6 L1075.3,507.2 L1079.7,508.7 L1084.0,510.3 L1088.4,511.8 L1092.7,513.4 L1097.1,514.9 L1101.5,516.5 L1105.8,518.0 L1110.2,519.5 L1114.6,521.0 L1118.9,522.5 L1123.3,524.0 L1127.6,525.5 L1132.0,527.0" stroke="#f57b12" stroke-width="4.20" fill="none" stroke-linejoin="round" stroke-linecap="butt" clip-path="url(#cb2)"/>
<path d="M652.2,767.0 L656.6,761.8 L660.9,755.7 L665.3,748.9 L669.6,741.2 L674.0,732.7 L678.4,723.5 L682.7,713.5 L687.1,702.9 L691.5,691.7 L695.8,680.0 L700.2,667.8 L704.5,655.3 L708.9,642.5 L713.3,629.6 L717.6,616.6 L722.0,603.6 L726.4,590.7 L730.7,577.9 L735.1,565.5 L739.4,553.4 L743.8,541.7 L748.2,530.4 L752.5,519.7 L756.9,509.6 L761.2,500.0 L765.6,491.1 L770.0,482.9 L774.3,475.3 L778.7,468.4 L783.1,462.2 L787.4,456.7 L791.8,451.8 L796.1,447.7 L800.5,444.1 L804.9,441.2 L809.2,438.9 L813.6,437.1 L817.9,435.9 L822.3,435.2 L826.7,435.0 L831.0,435.2 L835.4,435.8 L839.8,436.9 L844.1,438.2 L848.5,439.9 L852.8,441.8 L857.2,444.0 L861.6,446.4 L865.9,449.0 L870.3,451.8 L874.7,454.8 L879.0,457.8 L883.4,461.0 L887.7,464.3 L892.1,467.6 L896.5,471.0 L900.8,474.4 L905.2,477.8 L909.5,481.3 L913.9,484.8 L918.3,488.2 L922.6,491.7 L927.0,495.1 L931.4,498.5 L935.7,501.9 L940.1,505.2 L944.4,508.5 L948.8,511.7 L953.2,514.9 L957.5,518.1 L961.9,521.2 L966.3,524.2 L970.6,527.2 L975.0,530.1 L979.3,533.0 L983.7,535.9 L988.1,538.6 L992.4,541.4 L996.8,544.0 L1001.1,546.7 L1005.5,549.2 L1009.9,551.7 L1014.2,554.2 L1018.6,556.6 L1023.0,559.0 L1027.3,561.3 L1031.7,563.6 L1036.0,565.9 L1040.4,568.1 L1044.8,570.2 L1049.1,572.3 L1053.5,574.4 L1057.8,576.4 L1062.2,578.4 L1066.6,580.4 L1070.9,582.3 L1075.3,584.2 L1079.7,586.0 L1084.0,587.8 L1088.4,589.6 L1092.7,591.4 L1097.1,593.1 L1101.5,594.8 L1105.8,596.4 L1110.2,598.1 L1114.6,599.7 L1118.9,601.2 L1123.3,602.8 L1127.6,604.3 L1132.0,605.8" stroke="#0b720b" stroke-width="4.60" fill="none" stroke-linejoin="round" stroke-linecap="butt" clip-path="url(#cb2)"/>
<path d="M959.70,662.00 H1008.90" stroke="#4a4a4a" stroke-width="1.50" stroke-dasharray="5,1.9,1.5,1.9"/>
<text x="1015.10" y="669.00" class="lg" style="font-size:23.60px">-0.10 (V)</text>
<path d="M959.70,690.90 H1008.90" stroke="#4848e8" stroke-width="1.50" stroke-dasharray="5,1.9,1.5,1.9"/>
<text x="1015.10" y="697.90" class="lg" style="font-size:23.60px">-0.11 (V)</text>
<path d="M959.70,719.80 H1008.90" stroke="#e85555" stroke-width="1.50" stroke-dasharray="5,1.9,1.5,1.9"/>
<text x="1015.10" y="726.80" class="lg" style="font-size:23.60px">-0.12 (V)</text>
<g transform="translate(674.80,476.40) scale(0.920,1)"><text x="0" y="0" class="pl" style="font-size:26.5px">b<tspan dx="1.00" dy="0.00" style="font-size:30.0px">&#8217;</tspan></text></g>
<text x="1063" y="494" class="ip">i</text>
<text x="1060" y="597" class="ip">p</text>
<text transform="translate(609.70,635.70) rotate(-90)" class="tt">(j/j<tspan dy="7" font-size="18.5">m</tspan><tspan dy="-7">)</tspan><tspan dy="-9.5" font-size="16">2</tspan></text>
<text x="893.30" y="827.00" class="tt">t/t<tspan dy="7" style="font-size:17px">m</tspan></text>
<clipPath id="cc"><rect x="90.00" y="877.60" width="476.00" height="350.40"/></clipPath>
<rect x="90.00" y="880.60" width="476.00" height="347.40" fill="none" stroke="#666" stroke-width="2.0"/>
<text x="87.80" y="1254.60" text-anchor="middle" class="tk">0</text>
<text x="206.80" y="1254.60" text-anchor="middle" class="tk">5</text>
<text x="325.80" y="1254.60" text-anchor="middle" class="tk">10</text>
<text x="444.80" y="1254.60" text-anchor="middle" class="tk">15</text>
<text x="563.80" y="1254.60" text-anchor="middle" class="tk">20</text>
<text x="79.20" y="889.53" text-anchor="end" class="tk">-0.4</text>
<text x="79.20" y="932.95" text-anchor="end" class="tk">-0.5</text>
<text x="79.20" y="976.38" text-anchor="end" class="tk">-0.6</text>
<text x="79.20" y="1019.80" text-anchor="end" class="tk">-0.7</text>
<text x="79.20" y="1063.23" text-anchor="end" class="tk">-0.8</text>
<text x="79.20" y="1106.65" text-anchor="end" class="tk">-0.9</text>
<text x="79.20" y="1150.08" text-anchor="end" class="tk">-1.0</text>
<text x="79.20" y="1193.51" text-anchor="end" class="tk">-1.1</text>
<text x="79.20" y="1236.93" text-anchor="end" class="tk">-1.2</text>
<path d="M90.00,1228.00 v6.5 M209.00,1228.00 v6.5 M328.00,1228.00 v6.5 M447.00,1228.00 v6.5 M566.00,1228.00 v6.5 M149.50,1228.00 v3.5 M268.50,1228.00 v3.5 M387.50,1228.00 v3.5 M506.50,1228.00 v3.5 M90.00,880.60 h-6.5 M90.00,924.02 h-6.5 M90.00,967.45 h-6.5 M90.00,1010.88 h-6.5 M90.00,1054.30 h-6.5 M90.00,1097.72 h-6.5 M90.00,1141.15 h-6.5 M90.00,1184.58 h-6.5 M90.00,1228.00 h-6.5 M90.00,902.31 h-3.5 M90.00,945.74 h-3.5 M90.00,989.16 h-3.5 M90.00,1032.59 h-3.5 M90.00,1076.01 h-3.5 M90.00,1119.44 h-3.5 M90.00,1162.86 h-3.5 M90.00,1206.29 h-3.5" stroke="#666" stroke-width="2.0" fill="none"/>
<path d="M90.1,882.0 L91.1,888.3 L92.1,894.4 L93.1,900.4 L94.1,906.2 L95.1,911.9 L96.1,917.5 L97.1,922.9 L98.1,928.2 L99.1,933.3 L100.1,938.4 L101.1,943.4 L102.1,948.2 L103.1,953.0 L104.1,957.7 L105.1,962.3 L106.1,966.9 L107.1,971.4 L108.1,975.8 L109.1,980.2 L110.1,984.6 L111.1,988.9 L112.1,993.2 L113.1,997.4 L114.1,1001.6 L115.1,1005.8 L116.1,1010.0 L117.1,1014.2 L118.1,1018.4 L119.1,1022.6 L120.1,1026.8 L121.1,1030.9 L122.1,1035.1 L123.1,1039.3 L124.1,1043.4 L125.1,1047.5 L126.1,1051.5 L127.1,1055.6 L128.1,1059.6 L129.1,1063.5 L130.1,1067.4 L131.1,1071.2 L132.1,1074.9 L133.1,1078.6 L134.1,1082.2 L135.1,1085.8 L136.1,1089.2 L137.1,1092.6 L138.1,1096.0 L139.1,1099.2 L140.1,1102.5 L141.1,1105.6 L142.1,1108.7 L143.1,1111.8 L144.1,1114.8 L145.1,1117.7 L146.1,1120.7 L147.1,1123.6 L148.1,1126.4 L149.1,1129.2 L150.1,1132.0 L151.1,1134.7 L152.1,1137.4 L153.1,1140.1 L154.1,1142.7 L155.1,1145.2 L156.1,1147.7 L157.1,1150.2 L158.1,1152.6 L159.1,1154.9 L160.1,1157.2 L161.1,1159.4 L162.1,1161.6 L163.1,1163.7 L164.1,1165.8 L165.1,1167.8 L166.1,1169.7 L167.1,1171.6 L168.1,1173.4 L169.1,1175.2 L170.1,1177.0 L171.1,1178.6 L172.1,1180.3 L173.1,1181.8 L174.1,1183.4 L175.1,1184.8 L176.1,1186.2 L177.1,1187.6 L178.1,1188.9 L179.1,1190.1 L180.1,1191.3 L181.1,1192.5 L182.1,1193.6 L183.1,1194.6 L184.1,1195.6 L185.1,1196.5 L186.1,1197.4 L187.1,1198.2 L188.1,1199.0 L189.1,1199.7 L190.1,1200.4 L191.1,1201.1 L192.1,1201.6 L193.1,1202.2 L194.1,1202.7 L195.1,1203.2 L196.1,1203.6 L197.1,1204.0 L198.1,1204.3 L199.1,1204.6 L200.1,1204.9 L201.1,1205.1 L202.1,1205.3 L203.1,1205.4 L204.1,1205.6 L205.1,1205.7 L206.1,1205.7 L207.1,1205.8 L208.1,1205.8 L209.1,1205.8 L210.1,1205.7 L211.1,1205.7 L212.1,1205.6 L213.1,1205.5 L214.1,1205.3 L215.1,1205.2 L216.1,1205.0 L217.1,1204.8 L218.1,1204.6 L219.1,1204.4 L220.1,1204.1 L221.1,1203.9 L222.1,1203.6 L223.1,1203.3 L224.1,1203.0 L225.1,1202.7 L226.1,1202.4 L227.1,1202.1 L228.1,1201.7 L229.1,1201.4 L230.1,1201.0 L231.1,1200.6 L232.1,1200.2 L233.1,1199.8 L234.1,1199.4 L235.1,1199.0 L236.1,1198.6 L237.1,1198.2 L238.1,1197.7 L239.1,1197.3 L240.1,1196.8 L241.1,1196.3 L242.1,1195.9 L243.1,1195.4 L244.1,1194.9 L245.1,1194.4 L246.1,1193.9 L247.1,1193.4 L248.1,1192.9 L249.1,1192.3 L250.1,1191.8 L251.1,1191.3 L252.1,1190.7 L253.1,1190.2 L254.1,1189.6 L255.1,1189.1 L256.1,1188.5 L257.1,1187.9 L258.1,1187.4 L259.1,1186.8 L260.1,1186.2 L261.1,1185.7 L262.1,1185.1 L263.1,1184.5 L264.1,1183.9 L265.1,1183.3 L266.1,1182.7 L267.1,1182.1 L268.1,1181.6 L269.1,1181.0 L270.1,1180.4 L271.1,1179.8 L272.1,1179.2 L273.1,1178.6 L274.1,1178.0 L275.1,1177.4 L276.1,1176.8 L277.1,1176.2 L278.1,1175.7 L279.1,1175.1 L280.1,1174.5 L281.1,1173.9 L282.1,1173.3 L283.1,1172.7 L284.1,1172.1 L285.1,1171.6 L286.1,1171.0 L287.1,1170.4 L288.1,1169.8 L289.1,1169.3 L290.1,1168.7 L291.1,1168.1 L292.1,1167.5 L293.1,1167.0 L294.1,1166.4 L295.1,1165.8 L296.1,1165.3 L297.1,1164.7 L298.1,1164.1 L299.1,1163.6 L300.1,1163.0 L301.1,1162.4 L302.1,1161.9 L303.1,1161.3 L304.1,1160.8 L305.1,1160.2 L306.1,1159.7 L307.1,1159.1 L308.1,1158.6 L309.1,1158.0 L310.1,1157.5 L311.1,1157.0 L312.1,1156.4 L313.1,1155.9 L314.1,1155.3 L315.1,1154.8 L316.1,1154.3 L317.1,1153.8 L318.1,1153.2 L319.1,1152.7 L320.1,1152.2 L321.1,1151.7 L322.1,1151.2 L323.1,1150.6 L324.1,1150.1 L325.1,1149.6 L326.1,1149.1 L327.1,1148.6 L328.1,1148.1 L329.1,1147.6 L330.1,1147.1 L331.1,1146.6 L332.1,1146.1 L333.1,1145.7 L334.1,1145.2 L335.1,1144.7 L336.1,1144.2 L337.1,1143.7 L338.1,1143.3 L339.1,1142.8 L340.1,1142.3 L341.1,1141.9 L342.1,1141.4 L343.1,1141.0 L344.1,1140.5 L345.1,1140.1 L346.1,1139.6 L347.1,1139.2 L348.1,1138.7 L349.1,1138.3 L350.1,1137.9 L351.1,1137.4 L352.1,1137.0 L353.1,1136.6 L354.1,1136.2 L355.1,1135.8 L356.1,1135.3 L357.1,1134.9 L358.1,1134.5 L359.1,1134.1 L360.1,1133.7 L361.1,1133.4 L362.1,1133.0 L363.1,1132.6 L364.1,1132.2 L365.1,1131.8 L366.1,1131.5 L367.1,1131.1 L368.1,1130.7 L369.1,1130.4 L370.1,1130.0 L371.1,1129.7 L372.1,1129.3 L373.1,1129.0 L374.1,1128.6 L375.1,1128.3 L376.1,1128.0 L377.1,1127.7 L378.1,1127.3 L379.1,1127.0 L380.1,1126.7 L381.1,1126.4 L382.1,1126.1 L383.1,1125.8 L384.1,1125.5 L385.1,1125.2 L386.1,1125.0 L387.1,1124.7 L388.1,1124.4 L389.1,1124.1 L390.1,1123.9 L391.1,1123.6 L392.1,1123.4 L393.1,1123.1 L394.1,1122.9 L395.1,1122.7 L396.1,1122.4 L397.1,1122.2 L398.1,1122.0 L399.1,1121.8 L400.1,1121.6 L401.1,1121.4 L402.1,1121.2 L403.1,1121.0 L404.1,1120.8 L405.1,1120.6 L406.1,1120.4 L407.1,1120.3 L408.1,1120.1 L409.1,1119.9 L410.1,1119.8 L411.1,1119.6 L412.1,1119.5 L413.1,1119.4 L414.1,1119.2 L415.1,1119.1 L416.1,1119.0 L417.1,1118.9 L418.1,1118.8 L419.1,1118.7 L420.1,1118.6 L421.1,1118.5 L422.1,1118.4 L423.1,1118.3 L424.1,1118.3 L425.0,1118.2 L450.0,1116.0 L475.0,1115.3 L500.0,1115.1 L565.0,1115.1" stroke="#4a4a4a" stroke-width="1.80" fill="none" stroke-linejoin="round" stroke-linecap="butt" clip-path="url(#cc)"/>
<path d="M90.1,946.6 L91.1,951.3 L92.1,956.0 L93.1,960.7 L94.1,965.5 L95.1,970.2 L96.1,974.9 L97.1,979.6 L98.1,984.4 L99.1,989.1 L100.1,993.8 L101.1,998.5 L102.1,1003.1 L103.1,1007.8 L104.1,1012.4 L105.1,1017.0 L106.1,1021.6 L107.1,1026.1 L108.1,1030.6 L109.1,1035.1 L110.1,1039.5 L111.1,1043.9 L112.1,1048.3 L113.1,1052.6 L114.1,1056.8 L115.1,1061.1 L116.1,1065.2 L117.1,1069.3 L118.1,1073.3 L119.1,1077.3 L120.1,1081.2 L121.1,1085.1 L122.1,1088.8 L123.1,1092.6 L124.1,1096.2 L125.1,1099.8 L126.1,1103.2 L127.1,1106.7 L128.1,1110.0 L129.1,1113.3 L130.1,1116.4 L131.1,1119.6 L132.1,1122.6 L133.1,1125.6 L134.1,1128.4 L135.1,1131.3 L136.1,1134.0 L137.1,1136.7 L138.1,1139.2 L139.1,1141.8 L140.1,1144.2 L141.1,1146.6 L142.1,1148.9 L143.1,1151.1 L144.1,1153.2 L145.1,1155.3 L146.1,1157.3 L147.1,1159.2 L148.1,1161.0 L149.1,1162.8 L150.1,1164.5 L151.1,1166.1 L152.1,1167.6 L153.1,1169.1 L154.1,1170.5 L155.1,1171.8 L156.1,1173.1 L157.1,1174.2 L158.1,1175.3 L159.1,1176.3 L160.1,1177.3 L161.1,1178.1 L162.1,1178.9 L163.1,1179.7 L164.1,1180.3 L165.1,1180.9 L166.1,1181.4 L167.1,1181.8 L168.1,1182.1 L169.1,1182.4 L170.1,1182.6 L171.1,1182.7 L172.1,1182.8 L173.1,1182.8 L174.1,1182.7 L175.1,1182.6 L176.1,1182.4 L177.1,1182.2 L178.1,1181.9 L179.1,1181.6 L180.1,1181.2 L181.1,1180.7 L182.1,1180.2 L183.1,1179.7 L184.1,1179.1 L185.1,1178.5 L186.1,1177.8 L187.1,1177.1 L188.1,1176.4 L189.1,1175.6 L190.1,1174.8 L191.1,1174.0 L192.1,1173.2 L193.1,1172.3 L194.1,1171.4 L195.1,1170.5 L196.1,1169.6 L197.1,1168.6 L198.1,1167.7 L199.1,1166.7 L200.1,1165.7 L201.1,1164.7 L202.1,1163.8 L203.1,1162.8 L204.1,1161.8 L205.1,1160.8 L206.1,1159.8 L207.1,1158.8 L208.1,1157.8 L209.1,1156.8 L210.1,1155.8 L211.1,1154.8 L212.1,1153.9 L213.1,1152.9 L214.1,1151.9 L215.1,1150.9 L216.1,1150.0 L217.1,1149.0 L218.1,1148.1 L219.1,1147.2 L220.1,1146.2 L221.1,1145.3 L222.1,1144.4 L223.1,1143.5 L224.1,1142.7 L225.1,1141.8 L226.1,1140.9 L227.1,1140.1 L228.1,1139.3 L229.1,1138.5 L230.1,1137.7 L231.1,1136.9 L232.1,1136.1 L233.1,1135.4 L234.1,1134.6 L235.1,1133.9 L236.1,1133.2 L237.1,1132.5 L238.1,1131.9 L239.1,1131.2 L240.1,1130.6 L241.1,1129.9 L242.1,1129.3 L243.1,1128.7 L244.1,1128.1 L245.1,1127.5 L246.1,1127.0 L247.1,1126.4 L248.1,1125.9 L249.1,1125.4 L250.1,1124.9 L251.1,1124.4 L252.1,1123.9 L253.1,1123.4 L254.1,1123.0 L255.1,1122.5 L256.1,1122.1 L257.1,1121.6 L258.1,1121.2 L259.1,1120.8 L260.1,1120.4 L261.1,1120.1 L262.1,1119.7 L263.1,1119.3 L264.1,1119.0 L265.1,1118.6 L266.1,1118.3 L267.1,1118.0 L268.1,1117.7 L269.1,1117.4 L270.1,1117.1 L271.1,1116.8 L272.1,1116.5 L273.1,1116.3 L274.1,1116.0 L275.1,1115.8 L276.1,1115.5 L277.1,1115.3 L278.1,1115.1 L279.1,1114.9 L280.1,1114.7 L281.1,1114.5 L282.1,1114.3 L283.1,1114.1 L284.1,1113.9 L285.1,1113.7 L286.1,1113.6 L287.1,1113.4 L288.1,1113.2 L289.1,1113.1 L290.1,1113.0 L291.1,1112.8 L292.1,1112.7 L293.1,1112.6 L294.1,1112.5 L295.1,1112.3 L296.1,1112.2 L297.1,1112.1 L298.1,1112.0 L299.1,1111.9 L300.1,1111.8 L301.1,1111.8 L302.1,1111.7 L303.1,1111.6 L304.1,1111.5 L305.1,1111.5 L306.1,1111.4 L307.1,1111.3 L308.1,1111.3 L309.1,1111.2 L310.1,1111.1 L311.1,1111.1 L312.1,1111.0 L313.1,1111.0 L314.1,1110.9 L315.1,1110.9 L316.1,1110.9 L317.1,1110.8 L318.1,1110.8 L319.1,1110.7 L320.1,1110.7 L321.1,1110.6 L322.1,1110.6 L323.1,1110.6 L324.1,1110.5 L325.1,1110.5 L326.1,1110.5 L327.1,1110.4 L328.1,1110.4 L329.1,1110.3 L330.0,1110.3 L350.0,1110.3 L400.0,1110.5 L565.0,1110.5" stroke="#4848e8" stroke-width="1.80" fill="none" stroke-linejoin="round" stroke-linecap="butt" clip-path="url(#cc)"/>
<path d="M90.1,991.4 L91.1,995.9 L92.1,1000.7 L93.1,1005.7 L94.1,1010.9 L95.1,1016.2 L96.1,1021.6 L97.1,1027.0 L98.1,1032.4 L99.1,1037.7 L100.1,1042.8 L101.1,1047.8 L102.1,1052.5 L103.1,1057.1 L104.1,1061.4 L105.1,1065.6 L106.1,1069.7 L107.1,1073.6 L108.1,1077.4 L109.1,1081.1 L110.1,1084.7 L111.1,1088.2 L112.1,1091.7 L113.1,1095.1 L114.1,1098.5 L115.1,1101.9 L116.1,1105.3 L117.1,1108.7 L118.1,1112.0 L119.1,1115.3 L120.1,1118.5 L121.1,1121.7 L122.1,1124.8 L123.1,1127.9 L124.1,1130.8 L125.1,1133.7 L126.1,1136.4 L127.1,1139.0 L128.1,1141.5 L129.1,1143.9 L130.1,1146.2 L131.1,1148.3 L132.1,1150.4 L133.1,1152.3 L134.1,1154.1 L135.1,1155.8 L136.1,1157.4 L137.1,1158.9 L138.1,1160.3 L139.1,1161.6 L140.1,1162.8 L141.1,1163.9 L142.1,1164.9 L143.1,1165.8 L144.1,1166.7 L145.1,1167.5 L146.1,1168.1 L147.1,1168.7 L148.1,1169.3 L149.1,1169.7 L150.1,1170.1 L151.1,1170.4 L152.1,1170.7 L153.1,1170.9 L154.1,1171.0 L155.1,1171.1 L156.1,1171.1 L157.1,1171.0 L158.1,1170.9 L159.1,1170.8 L160.1,1170.6 L161.1,1170.4 L162.1,1170.1 L163.1,1169.8 L164.1,1169.5 L165.1,1169.1 L166.1,1168.7 L167.1,1168.2 L168.1,1167.7 L169.1,1167.3 L170.1,1166.7 L171.1,1166.2 L172.1,1165.6 L173.1,1165.0 L174.1,1164.4 L175.1,1163.8 L176.1,1163.2 L177.1,1162.5 L178.1,1161.8 L179.1,1161.1 L180.1,1160.4 L181.1,1159.6 L182.1,1158.9 L183.1,1158.1 L184.1,1157.3 L185.1,1156.5 L186.1,1155.7 L187.1,1154.9 L188.1,1154.1 L189.1,1153.3 L190.1,1152.4 L191.1,1151.5 L192.1,1150.7 L193.1,1149.8 L194.1,1148.9 L195.1,1148.0 L196.1,1147.2 L197.1,1146.3 L198.1,1145.4 L199.1,1144.5 L200.1,1143.6 L201.1,1142.6 L202.1,1141.7 L203.1,1140.8 L204.1,1139.9 L205.1,1139.0 L206.1,1138.1 L207.1,1137.2 L208.1,1136.3 L209.1,1135.4 L210.1,1134.6 L211.1,1133.7 L212.1,1132.8 L213.1,1131.9 L214.1,1131.1 L215.1,1130.2 L216.1,1129.4 L217.1,1128.6 L218.1,1127.8 L219.1,1127.0 L220.1,1126.2 L221.1,1125.4 L222.1,1124.6 L223.1,1123.9 L224.1,1123.1 L225.1,1122.4 L226.1,1121.7 L227.1,1121.0 L228.1,1120.4 L229.1,1119.7 L230.1,1119.1 L231.1,1118.5 L232.1,1117.9 L233.1,1117.4 L234.1,1116.8 L235.1,1116.3 L236.1,1115.8 L237.1,1115.3 L238.1,1114.8 L239.1,1114.4 L240.1,1113.9 L241.1,1113.5 L242.1,1113.1 L243.1,1112.7 L244.1,1112.3 L245.1,1112.0 L246.1,1111.6 L247.1,1111.3 L248.1,1111.0 L249.1,1110.7 L250.1,1110.4 L251.1,1110.1 L252.1,1109.9 L253.1,1109.6 L254.1,1109.4 L255.1,1109.2 L256.1,1109.0 L257.1,1108.8 L258.1,1108.6 L259.1,1108.4 L260.1,1108.2 L261.1,1108.1 L262.1,1107.9 L263.1,1107.8 L264.1,1107.7 L265.1,1107.5 L266.1,1107.4 L267.1,1107.3 L268.1,1107.2 L269.1,1107.2 L270.1,1107.1 L271.1,1107.0 L272.1,1106.9 L273.1,1106.9 L274.1,1106.8 L275.1,1106.8 L276.1,1106.7 L277.1,1106.7 L278.1,1106.7 L279.1,1106.6 L280.1,1106.6 L281.1,1106.6 L282.1,1106.6 L283.1,1106.6 L284.1,1106.6 L285.1,1106.5 L286.1,1106.5 L287.1,1106.5 L288.1,1106.5 L289.1,1106.5 L290.1,1106.5 L291.1,1106.5 L292.1,1106.5 L293.1,1106.5 L294.1,1106.5 L295.1,1106.5 L296.1,1106.5 L297.1,1106.5 L298.1,1106.5 L299.1,1106.5 L300.1,1106.5 L301.1,1106.5 L302.1,1106.4 L303.1,1106.4 L304.1,1106.4 L305.1,1106.4 L306.1,1106.3 L307.1,1106.3 L308.1,1106.2 L308.7,1106.2 L350.0,1106.2 L400.0,1106.3 L565.0,1106.3" stroke="#e85555" stroke-width="1.80" fill="none" stroke-linejoin="round" stroke-linecap="butt" clip-path="url(#cc)"/>
<path d="M357.60,1006.40 H405.30" stroke="#4a4a4a" stroke-width="1.80"/>
<text x="412.10" y="1013.40" class="lg" style="font-size:23.50px">-0.10 (V)</text>
<path d="M357.60,1036.20 H405.30" stroke="#4848e8" stroke-width="1.80"/>
<text x="412.10" y="1043.20" class="lg" style="font-size:23.50px">-0.11 (V)</text>
<path d="M357.60,1065.10 H405.30" stroke="#e85555" stroke-width="1.80"/>
<text x="412.10" y="1072.10" class="lg" style="font-size:23.50px">-0.12 (V)</text>
<g transform="translate(130.40,927.30) scale(0.960,1)"><text x="0" y="0" class="pl" style="font-size:26.0px">c</text></g>
<text transform="translate(34.60,1158.20) rotate(-90)" class="tt">Current density/uA&#183;cm<tspan dx="1" dy="-10.5" font-size="16">-2</tspan></text>
<text x="328.00" y="1275.00" text-anchor="middle" class="tt">Time/s</text>
<clipPath id="cc2"><rect x="666.10" y="877.60" width="464.40" height="347.10"/></clipPath>
<rect x="666.10" y="880.60" width="464.40" height="344.10" fill="none" stroke="#666" stroke-width="2.0"/>
<text x="696.82" y="1250.00" text-anchor="middle" class="tk">0.4</text>
<text x="781.25" y="1250.00" text-anchor="middle" class="tk">0.8</text>
<text x="865.69" y="1250.00" text-anchor="middle" class="tk">1.2</text>
<text x="950.13" y="1250.00" text-anchor="middle" class="tk">1.6</text>
<text x="1034.56" y="1250.00" text-anchor="middle" class="tk">2.0</text>
<text x="1119.00" y="1250.00" text-anchor="middle" class="tk">2.4</text>
<text x="655.60" y="1233.63" text-anchor="end" class="tk">0.0</text>
<text x="655.60" y="1164.81" text-anchor="end" class="tk">0.2</text>
<text x="655.60" y="1095.99" text-anchor="end" class="tk">0.4</text>
<text x="655.60" y="1027.17" text-anchor="end" class="tk">0.6</text>
<text x="655.60" y="958.35" text-anchor="end" class="tk">0.8</text>
<text x="655.60" y="889.53" text-anchor="end" class="tk">1.0</text>
<path d="M708.32,1224.70 v6.5 M792.75,1224.70 v6.5 M877.19,1224.70 v6.5 M961.63,1224.70 v6.5 M1046.06,1224.70 v6.5 M1130.50,1224.70 v6.5 M750.54,1224.70 v3.5 M834.97,1224.70 v3.5 M919.41,1224.70 v3.5 M1003.85,1224.70 v3.5 M1088.28,1224.70 v3.5 M666.10,1224.70 h-6.5 M666.10,1155.88 h-6.5 M666.10,1087.06 h-6.5 M666.10,1018.24 h-6.5 M666.10,949.42 h-6.5 M666.10,880.60 h-6.5 M666.10,1190.29 h-3.5 M666.10,1121.47 h-3.5 M666.10,1052.65 h-3.5 M666.10,983.83 h-3.5 M666.10,915.01 h-3.5" stroke="#666" stroke-width="2.0" fill="none"/>
<path d="M666.10,1092.22 C667.96,1088.44 673.21,1077.94 677.29,1069.51 C681.37,1061.08 686.15,1050.70 690.59,1041.64 C695.02,1032.58 699.45,1023.80 703.89,1015.14 C708.32,1006.48 712.75,997.88 717.18,989.68 C721.62,981.48 726.68,972.65 730.48,965.94 C734.28,959.23 736.36,954.75 739.98,949.42 C743.61,944.09 748.11,938.75 752.23,933.94 C756.34,929.12 760.56,924.82 764.68,920.52 C768.80,916.21 772.81,912.03 776.92,908.13 C781.04,904.23 785.26,900.44 789.38,897.12 C793.49,893.79 797.50,890.52 801.62,888.17 C805.74,885.82 810.28,884.21 814.07,883.01 C817.87,881.80 820.94,881.35 824.42,880.94 C827.90,880.54 829.70,880.26 834.97,880.60 C840.25,880.94 847.78,881.29 856.08,883.01 C864.38,884.73 875.89,888.17 884.79,890.92 C893.69,893.68 901.26,896.66 909.49,899.53 C917.72,902.39 925.95,905.26 934.19,908.13 C942.42,911.00 950.65,913.69 958.88,916.73 C967.12,919.77 976.76,923.78 983.58,926.37 C990.41,928.95 994.52,930.21 999.83,932.22 C1005.15,934.22 1008.63,935.94 1015.46,938.41 C1022.28,940.87 1032.34,944.09 1040.79,947.01 C1049.23,949.94 1057.64,953.21 1066.12,955.96 C1074.60,958.71 1083.18,961.35 1091.66,963.53 C1100.14,965.71 1110.52,967.66 1116.99,969.03 C1123.46,970.41 1128.25,971.33 1130.50,971.79" stroke="#4a4a4a" stroke-width="1.50" fill="none" stroke-linejoin="round" stroke-linecap="butt" stroke-dasharray="5,1.9,1.5,1.9" clip-path="url(#cc2)"/>
<path d="M666.10,1069.86 C667.96,1066.47 673.21,1056.89 677.29,1049.55 C681.37,1042.21 686.15,1033.78 690.59,1025.81 C695.02,1017.84 699.45,1009.29 703.89,1001.72 C708.32,994.15 712.75,987.24 717.18,980.39 C721.62,973.54 726.68,965.88 730.48,960.60 C734.28,955.33 736.36,953.18 739.98,948.73 C743.61,944.29 748.11,938.64 752.23,933.94 C756.34,929.23 760.56,924.82 764.68,920.52 C768.80,916.21 772.81,912.03 776.92,908.13 C781.04,904.23 785.26,900.44 789.38,897.12 C793.49,893.79 797.50,890.52 801.62,888.17 C805.74,885.82 810.28,884.21 814.07,883.01 C817.87,881.80 820.94,881.35 824.42,880.94 C827.90,880.54 829.70,880.08 834.97,880.60 C840.25,881.12 847.78,881.75 856.08,884.04 C864.38,886.34 875.89,890.98 884.79,894.36 C893.69,897.75 901.26,901.02 909.49,904.34 C917.72,907.67 925.95,911.05 934.19,914.32 C942.42,917.59 950.65,920.69 958.88,923.96 C967.12,927.23 976.76,931.30 983.58,933.94 C990.41,936.57 994.52,937.72 999.83,939.79 C1005.15,941.85 1008.63,943.97 1015.46,946.32 C1022.28,948.67 1032.34,951.60 1040.79,953.89 C1049.23,956.19 1057.64,958.19 1066.12,960.09 C1074.60,961.98 1083.18,963.76 1091.66,965.25 C1100.14,966.74 1110.52,968.06 1116.99,969.03 C1123.46,970.01 1128.25,970.75 1130.50,971.10" stroke="#e85555" stroke-width="1.50" fill="none" stroke-linejoin="round" stroke-linecap="butt" stroke-dasharray="5,1.9,1.5,1.9" clip-path="url(#cc2)"/>
<path d="M703.25,978.50 C705.57,975.51 712.65,966.25 717.18,960.60 C721.72,954.95 726.68,949.05 730.48,944.60 C734.28,940.16 736.36,937.78 739.98,933.94 C743.61,930.09 748.11,925.45 752.23,921.55 C756.34,917.65 760.56,914.04 764.68,910.54 C768.80,907.04 772.81,903.43 776.92,900.56 C781.04,897.69 785.26,895.57 789.38,893.33 C793.49,891.10 797.50,888.97 801.62,887.14 C805.74,885.30 810.28,883.35 814.07,882.32 C817.87,881.29 820.94,881.23 824.42,880.94 C827.90,880.66 829.70,880.37 834.97,880.60 C840.25,880.83 849.05,881.12 856.08,882.32 C863.12,883.52 870.37,885.99 877.19,887.83 C884.02,889.66 889.61,891.21 897.03,893.33 C904.46,895.45 913.50,898.09 921.73,900.56 C929.96,903.02 938.20,905.66 946.43,908.13 C954.66,910.59 962.89,912.83 971.13,915.35 C979.36,917.88 988.44,920.54 995.82,923.27 C1003.21,925.99 1007.96,928.95 1015.46,931.70 C1022.95,934.45 1032.34,937.12 1040.79,939.79 C1049.23,942.45 1057.64,945.23 1066.12,947.70 C1074.60,950.17 1083.18,952.80 1091.66,954.58 C1100.14,956.36 1110.52,957.51 1116.99,958.37 C1123.46,959.23 1128.25,959.51 1130.50,959.74" stroke="#4848e8" stroke-width="1.50" fill="none" stroke-linejoin="round" stroke-linecap="butt" stroke-dasharray="5,1.9,1.5,1.9" clip-path="url(#cc2)"/>
<path d="M666.1,1058.7 L670.3,1046.4 L674.5,1034.8 L678.8,1023.8 L683.0,1013.5 L687.2,1003.7 L691.4,994.4 L695.7,985.7 L699.9,977.4 L704.1,969.7 L708.3,962.4 L712.5,955.5 L716.8,949.1 L721.0,943.0 L725.2,937.4 L729.4,932.1 L733.6,927.1 L737.9,922.5 L742.1,918.2 L746.3,914.2 L750.5,910.5 L754.8,907.1 L759.0,904.0 L763.2,901.1 L767.4,898.4 L771.6,895.9 L775.9,893.7 L780.1,891.7 L784.3,889.9 L788.5,888.3 L792.8,886.8 L797.0,885.6 L801.2,884.5 L805.4,883.5 L809.6,882.7 L813.9,882.0 L818.1,881.5 L822.3,881.1 L826.5,880.8 L830.8,880.7 L835.0,880.6 L839.2,880.7 L843.4,880.8 L847.6,881.1 L851.9,881.4 L856.1,881.8 L860.3,882.3 L864.5,882.9 L868.7,883.5 L873.0,884.2 L877.2,885.0 L881.4,885.9 L885.6,886.7 L889.9,887.7 L894.1,888.7 L898.3,889.7 L902.5,890.8 L906.7,892.0 L911.0,893.1 L915.2,894.3 L919.4,895.6 L923.6,896.9 L927.9,898.2 L932.1,899.5 L936.3,900.9 L940.5,902.2 L944.7,903.7 L949.0,905.1 L953.2,906.5 L957.4,908.0 L961.6,909.5 L965.8,911.0 L970.1,912.5 L974.3,914.0 L978.5,915.5 L982.7,917.1 L987.0,918.6 L991.2,920.2 L995.4,921.8 L999.6,923.3 L1003.8,924.9 L1008.1,926.5 L1012.3,928.1 L1016.5,929.7 L1020.7,931.3 L1025.0,932.8 L1029.2,934.4 L1033.4,936.0 L1037.6,937.6 L1041.8,939.2 L1046.1,940.8 L1050.3,942.3 L1054.5,943.9 L1058.7,945.5 L1063.0,947.1 L1067.2,948.6 L1071.4,950.2 L1075.6,951.7 L1079.8,953.3 L1084.1,954.8 L1088.3,956.4 L1092.5,957.9 L1096.7,959.4 L1100.9,960.9 L1105.2,962.4 L1109.4,963.9 L1113.6,965.4 L1117.8,966.9 L1122.1,968.4 L1126.3,969.9 L1130.5,971.3" stroke="#f57b12" stroke-width="4.20" fill="none" stroke-linejoin="round" stroke-linecap="butt" clip-path="url(#cc2)"/>
<path d="M666.1,1207.9 L670.3,1202.8 L674.5,1196.8 L678.8,1190.1 L683.0,1182.5 L687.2,1174.1 L691.4,1165.0 L695.7,1155.2 L699.9,1144.7 L704.1,1133.7 L708.3,1122.1 L712.5,1110.1 L716.8,1097.8 L721.0,1085.2 L725.2,1072.5 L729.4,1059.6 L733.6,1046.8 L737.9,1034.1 L742.1,1021.5 L746.3,1009.3 L750.5,997.3 L754.8,985.8 L759.0,974.7 L763.2,964.1 L767.4,954.1 L771.6,944.7 L775.9,935.9 L780.1,927.8 L784.3,920.3 L788.5,913.5 L792.8,907.4 L797.0,902.0 L801.2,897.2 L805.4,893.1 L809.6,889.6 L813.9,886.7 L818.1,884.4 L822.3,882.7 L826.5,881.5 L830.8,880.8 L835.0,880.6 L839.2,880.8 L843.4,881.4 L847.6,882.4 L851.9,883.8 L856.1,885.4 L860.3,887.3 L864.5,889.5 L868.7,891.9 L873.0,894.4 L877.2,897.2 L881.4,900.1 L885.6,903.1 L889.9,906.2 L894.1,909.4 L898.3,912.7 L902.5,916.1 L906.7,919.4 L911.0,922.8 L915.2,926.2 L919.4,929.7 L923.6,933.1 L927.9,936.5 L932.1,939.8 L936.3,943.2 L940.5,946.5 L944.7,949.8 L949.0,953.0 L953.2,956.2 L957.4,959.4 L961.6,962.5 L965.8,965.5 L970.1,968.5 L974.3,971.5 L978.5,974.4 L982.7,977.2 L987.0,980.0 L991.2,982.8 L995.4,985.5 L999.6,988.1 L1003.8,990.7 L1008.1,993.2 L1012.3,995.7 L1016.5,998.1 L1020.7,1000.5 L1025.0,1002.9 L1029.2,1005.2 L1033.4,1007.4 L1037.6,1009.6 L1041.8,1011.8 L1046.1,1013.9 L1050.3,1016.0 L1054.5,1018.0 L1058.7,1020.0 L1063.0,1022.0 L1067.2,1023.9 L1071.4,1025.8 L1075.6,1027.7 L1079.8,1029.5 L1084.1,1031.3 L1088.3,1033.0 L1092.5,1034.8 L1096.7,1036.5 L1100.9,1038.1 L1105.2,1039.8 L1109.4,1041.4 L1113.6,1043.0 L1117.8,1044.5 L1122.1,1046.0 L1126.3,1047.5 L1130.5,1049.0" stroke="#0b720b" stroke-width="4.60" fill="none" stroke-linejoin="round" stroke-linecap="butt" clip-path="url(#cc2)"/>
<path d="M970.10,1103.50 H1017.50" stroke="#4a4a4a" stroke-width="1.50" stroke-dasharray="5,1.9,1.5,1.9"/>
<text x="1023.00" y="1110.50" class="lg" style="font-size:23.10px">-0.10 (V)</text>
<path d="M970.10,1133.00 H1017.50" stroke="#e85555" stroke-width="1.50" stroke-dasharray="5,1.9,1.5,1.9"/>
<text x="1023.00" y="1140.00" class="lg" style="font-size:23.10px">-0.11 (V)</text>
<path d="M970.10,1161.30 H1017.50" stroke="#4848e8" stroke-width="1.50" stroke-dasharray="5,1.9,1.5,1.9"/>
<text x="1023.00" y="1168.30" class="lg" style="font-size:23.10px">-0.12 (V)</text>
<g transform="translate(686.60,924.20) scale(0.960,1)"><text x="0" y="0" class="pl" style="font-size:26.0px">c<tspan dx="2.00" dy="0.00" style="font-size:29.0px">&#8217;</tspan></text></g>
<text x="1058" y="939" class="ip">i</text>
<text x="1051" y="1043" class="ip">p</text>
<text transform="translate(621.50,1082.70) rotate(-90)" class="tt">(j/j<tspan dy="7" font-size="18.5">m</tspan><tspan dy="-7">)</tspan><tspan dy="-9.5" font-size="16">2</tspan></text>
<text x="899.00" y="1267.00" class="tt">t/t<tspan dy="7" style="font-size:17px">m</tspan></text>
</svg>
</body></html>
